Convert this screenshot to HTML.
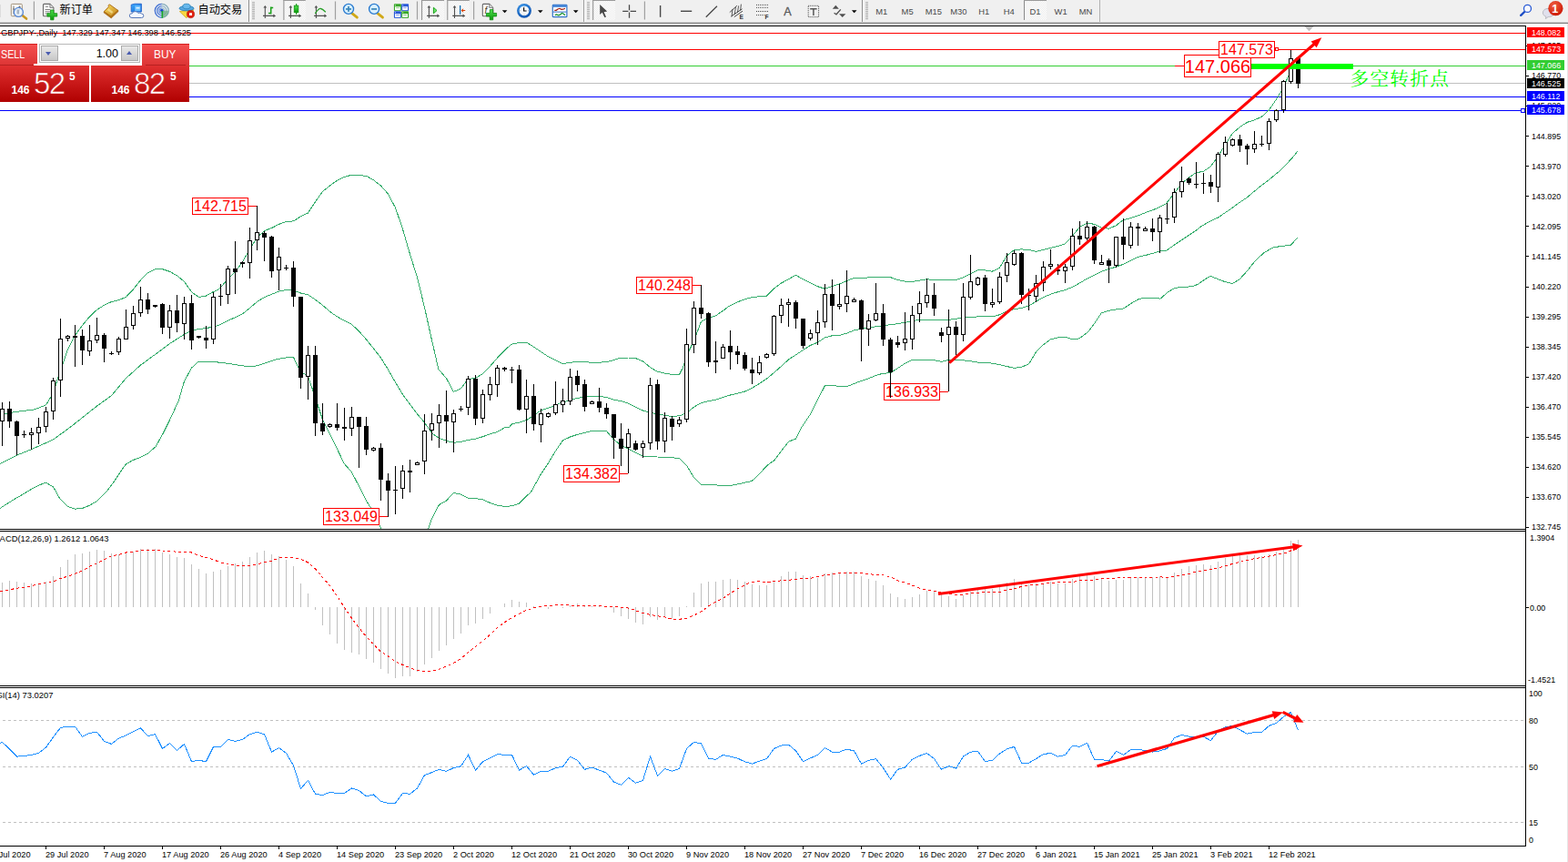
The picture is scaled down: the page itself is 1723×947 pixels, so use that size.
<!DOCTYPE html>
<html><head><meta charset="utf-8"><title>GBPJPY Daily</title>
<style>
html,body{margin:0;padding:0;background:#fff;}
body{width:1723px;height:947px;overflow:hidden;position:relative;font-family:"Liberation Sans",sans-serif;}
svg text{font-family:"Liberation Sans",sans-serif;}
#tb{position:absolute;left:0;top:0;width:1723px;height:24px;background:#f0f0f0;}
#tbl1{position:absolute;left:0;top:24px;width:1723px;height:1px;background:#cfcfcf;}
#tbl2{position:absolute;left:0;top:25px;width:1723px;height:1px;background:#7c7c7c;}
#main{position:absolute;left:0;top:0;}
#trade{position:absolute;left:0;top:48px;width:208px;height:64px;}
#trade div{position:absolute;}
.sb{background:linear-gradient(#f55050,#dc3434);color:#fff;font-size:12px;border-top:1px solid #d42020;box-sizing:border-box;}
.pp{background:linear-gradient(#e03030,#b00000);color:#fff;}
</style></head><body>
<div id="tb"></div><div style="position:absolute;left:1722px;top:26px;width:1px;height:921px;background:#e6e6e6"></div><div id="tbl1"></div><div id="tbl2"></div>
<svg id="main" width="1723" height="947" viewBox="0 0 1723 947">
<g shape-rendering="crispEdges">
<rect x="0" y="36" width="1676" height="1" fill="#ff0000"/>
<rect x="0" y="54" width="1676" height="1" fill="#ff0000"/>
<rect x="0" y="72" width="1676" height="1" fill="#32cd32"/>
<rect x="1291" y="72" width="10" height="1" fill="#ff0000"/>
<rect x="0" y="91" width="1676" height="1" fill="#c0c0c0"/>
<rect x="0" y="106" width="1676" height="1" fill="#0000ff"/>
<rect x="0" y="121" width="1676" height="1" fill="#0000ff"/>
<rect x="1671.5" y="119.5" width="4" height="4" fill="#fff" stroke="#0000ff" stroke-width="1"/>
</g>
<clipPath id="mainclip"><rect x="0" y="29" width="1676" height="552"/></clipPath>
<g clip-path="url(#mainclip)" fill="none" stroke="#35ad6c" stroke-width="1" shape-rendering="crispEdges">
<path d="M0.0 456.2 L12.7 453.2 L25.4 451.4 L38.0 449.9 L50.7 444.8 L58.3 432.1 L66.4 406.8 L74.5 384.0 L82.4 368.7 L90.5 357.3 L98.4 348.0 L106.5 340.3 L114.4 335.3 L122.5 331.5 L130.3 329.7 L138.4 326.4 L146.3 318.0 L154.4 307.9 L162.3 299.8 L170.4 295.7 L178.5 295.7 L186.4 298.3 L194.5 302.8 L202.3 309.2 L210.4 320.6 L218.3 326.4 L226.4 325.1 L234.3 320.6 L240.0 318.2 L250.4 306.8 L258.5 298.7 L266.4 287.8 L274.5 273.8 L282.3 261.1 L290.5 253.5 L298.6 250.5 L306.4 246.4 L314.5 243.4 L322.4 242.9 L330.5 237.8 L338.4 234.0 L346.5 221.8 L354.4 210.4 L362.5 204.1 L370.3 198.3 L378.4 194.5 L386.3 192.2 L394.4 192.7 L402.3 193.2 L410.4 197.7 L418.5 204.1 L426.4 213.0 L434.5 228.2 L442.3 251.0 L450.4 278.9 L458.3 304.2 L466.4 337.2 L474.3 372.7 L481.9 405.8 L490.4 415.4 L498.4 430.4 L506.5 426.9 L514.4 416.5 L522.6 415.3 L530.5 410.7 L538.4 402.5 L546.5 393.2 L554.4 385.1 L560.0 379.8 L562.5 378.1 L570.6 376.6 L578.5 376.1 L586.4 381.1 L594.3 386.4 L602.2 391.6 L610.2 395.6 L618.3 399.6 L626.3 398.2 L634.4 397.7 L642.4 397.7 L650.5 398.2 L658.5 398.2 L666.4 397.7 L674.3 395.6 L682.5 393.0 L690.4 393.0 L698.3 393.5 L706.5 396.9 L714.4 403.5 L722.4 408.3 L730.5 410.1 L738.5 411.4 L746.6 411.4 L750.6 403.5 L754.6 390.3 L762.5 374.5 L770.4 353.4 L778.6 349.4 L786.5 346.8 L794.4 341.5 L801.2 336.3 L810.6 331.8 L818.5 328.7 L826.4 326.6 L834.3 325.8 L842.2 325.2 L850.2 317.3 L858.3 311.2 L866.3 306.8 L874.4 302.3 L882.4 306.8 L890.5 310.7 L898.5 314.7 L906.4 317.3 L914.3 314.7 L922.5 312.0 L930.4 308.6 L938.3 305.4 L946.5 305.4 L954.4 304.9 L962.4 304.4 L970.5 304.4 L978.5 304.6 L986.6 307.6 L994.6 309.1 L1002.5 309.4 L1010.4 308.1 L1018.6 306.8 L1026.5 307.6 L1034.4 307.6 L1041.2 307.9 L1050.6 307.5 L1058.5 304.8 L1066.4 300.9 L1074.3 296.9 L1082.2 296.9 L1090.2 298.2 L1098.3 294.3 L1106.3 281.1 L1114.4 274.5 L1122.4 273.9 L1130.5 274.5 L1138.5 276.3 L1146.4 274.5 L1154.3 272.4 L1162.5 270.5 L1170.4 267.9 L1178.3 259.2 L1186.5 249.4 L1194.4 245.4 L1202.4 246.2 L1210.5 250.2 L1218.5 251.2 L1226.6 247.6 L1234.6 241.5 L1242.5 239.6 L1250.4 237.0 L1258.6 233.6 L1266.5 230.9 L1274.4 227.5 L1281.2 223.9 L1290.6 212.2 L1298.5 201.6 L1306.4 195.0 L1314.3 189.7 L1322.2 188.4 L1330.2 183.1 L1338.3 171.8 L1346.3 159.1 L1354.4 146.4 L1362.4 139.6 L1370.5 134.3 L1378.5 131.9 L1386.4 128.2 L1394.3 121.1 L1402.5 109.2 L1410.4 96.0 L1418.3 77.5 L1424.7 63.0"/>
<path d="M0.0 509.7 L18.5 500.1 L34.5 493.7 L50.5 486.6 L58.6 482.8 L74.5 471.4 L90.5 458.8 L106.5 446.1 L122.5 434.7 L138.4 415.6 L154.4 401.2 L170.4 389.5 L186.4 377.6 L202.3 367.5 L210.4 363.2 L218.3 361.6 L226.4 360.6 L234.3 359.1 L240.0 357.5 L250.4 352.4 L258.5 348.6 L266.4 344.8 L274.5 338.5 L282.3 331.6 L290.5 326.6 L298.6 323.3 L306.4 320.2 L314.5 318.4 L322.4 318.9 L330.5 322.0 L338.4 323.8 L346.5 329.1 L354.4 335.2 L362.5 342.3 L370.3 347.8 L378.4 352.4 L386.3 356.2 L394.4 363.8 L402.3 372.7 L410.4 382.8 L418.5 393.0 L426.4 405.9 L434.5 420.0 L442.4 433.2 L450.6 444.3 L458.5 454.8 L466.4 464.1 L474.5 475.7 L482.4 481.5 L490.5 484.3 L498.4 486.2 L506.5 485.5 L514.4 483.4 L522.6 482.2 L530.5 479.7 L538.4 476.9 L546.5 474.5 L554.4 469.9 L560.0 469.0 L562.5 465.7 L570.6 464.2 L578.5 461.6 L586.4 456.3 L594.3 451.0 L602.2 448.4 L610.2 445.2 L618.3 441.8 L626.3 439.9 L634.4 437.3 L642.4 436.5 L650.5 435.2 L658.5 435.2 L666.4 436.5 L674.3 439.2 L682.5 440.5 L690.4 443.1 L698.3 447.1 L706.5 451.0 L714.4 453.1 L722.4 455.0 L730.5 456.3 L738.5 457.6 L746.6 456.8 L754.6 453.7 L762.5 447.1 L770.4 442.6 L778.6 440.5 L786.5 439.2 L794.4 436.5 L801.2 434.3 L810.6 432.2 L818.5 430.0 L826.4 426.3 L834.3 421.6 L842.2 416.3 L850.2 409.7 L858.3 402.6 L866.3 395.2 L874.4 389.9 L882.4 384.6 L890.5 379.4 L898.5 376.2 L906.4 370.9 L914.3 368.8 L922.5 368.3 L930.4 366.2 L938.3 363.0 L946.5 361.4 L954.4 360.3 L962.4 358.8 L970.5 357.7 L978.5 356.7 L986.6 355.6 L994.6 354.3 L1002.5 352.4 L1010.4 351.6 L1018.6 351.1 L1026.5 351.1 L1034.4 351.4 L1041.2 351.5 L1050.6 350.2 L1058.5 349.2 L1066.4 348.4 L1074.3 347.9 L1082.2 347.9 L1090.2 347.9 L1098.3 345.8 L1106.3 341.8 L1114.4 339.7 L1122.4 338.6 L1130.5 336.0 L1138.5 331.2 L1146.4 326.7 L1154.3 323.3 L1162.5 320.7 L1170.4 318.6 L1178.3 315.4 L1186.5 310.9 L1194.4 306.2 L1202.4 302.2 L1210.5 298.2 L1218.5 295.6 L1226.6 293.0 L1234.6 290.3 L1242.5 286.4 L1250.4 282.4 L1258.6 280.5 L1266.5 278.4 L1274.4 275.8 L1281.2 275.7 L1290.6 268.9 L1298.5 263.6 L1306.4 258.4 L1314.3 253.1 L1319.5 249.1 L1329.0 243.4 L1338.5 239.0 L1346.8 233.3 L1354.4 228.2 L1362.0 222.5 L1369.6 217.5 L1377.2 211.1 L1384.8 204.8 L1392.4 199.1 L1398.7 194.0 L1406.3 187.7 L1413.9 180.1 L1420.3 173.1 L1425.6 166.5"/>
<path d="M0.0 558.5 L7.9 553.3 L15.8 548.5 L23.8 543.8 L31.7 539.0 L39.6 534.7 L49.9 530.0 L58.6 535.0 L65.7 547.7 L74.4 556.4 L82.4 559.1 L90.3 558.5 L98.2 555.3 L106.1 550.9 L117.2 539.8 L126.7 527.1 L137.8 510.5 L145.7 505.7 L153.7 502.6 L162.4 498.3 L171.1 490.7 L179.0 476.4 L186.9 460.6 L196.4 440.0 L202.3 419.5 L210.4 404.2 L218.3 397.1 L226.4 397.1 L234.3 397.1 L240.0 398.1 L250.4 399.3 L258.5 400.6 L266.4 401.9 L274.5 402.6 L282.3 401.9 L290.5 399.3 L298.6 396.3 L306.4 394.2 L314.5 393.0 L322.4 392.2 L326.2 400.6 L330.2 408.3 L338.4 413.0 L346.3 436.2 L354.4 460.6 L362.3 476.9 L370.4 493.1 L378.3 509.4 L386.4 518.7 L394.3 533.8 L402.5 550.0 L410.4 562.8 L418.5 580.2 L424.5 593.0 L436.2 604.6 L450.1 607.0 L461.7 600.0 L471.0 580.2 L474.5 569.8 L482.4 554.7 L490.5 550.0 L498.4 541.4 L506.5 543.1 L514.4 547.3 L522.6 547.7 L530.5 548.9 L538.4 552.4 L546.5 555.2 L554.4 556.3 L562.5 555.9 L570.0 553.5 L583.8 540.0 L594.3 521.0 L602.2 509.1 L610.2 495.9 L618.3 484.0 L626.3 480.1 L634.4 477.4 L642.4 475.3 L650.5 473.5 L658.5 473.5 L666.4 473.5 L674.3 482.7 L682.5 489.3 L690.4 493.3 L698.3 497.2 L706.5 501.2 L714.4 501.2 L722.4 502.0 L730.5 502.5 L739.2 502.9 L746.3 503.4 L755.0 512.1 L762.2 524.0 L770.4 532.3 L790.7 533.1 L804.9 533.1 L814.4 531.1 L826.3 528.4 L835.0 520.0 L843.0 511.3 L850.9 505.7 L860.4 493.1 L866.7 485.1 L874.6 482.0 L881.0 469.3 L890.5 455.0 L906.4 423.7 L914.3 423.7 L922.5 424.2 L930.4 424.8 L938.3 421.6 L946.5 418.4 L954.4 415.8 L962.4 412.4 L970.5 410.2 L978.5 409.7 L986.6 404.4 L994.6 399.2 L1002.5 395.2 L1010.4 395.2 L1018.6 396.0 L1026.5 395.7 L1034.4 397.3 L1041.2 395.6 L1050.6 395.4 L1058.5 395.9 L1066.4 396.7 L1074.3 398.0 L1082.2 398.6 L1090.2 399.1 L1098.3 400.7 L1106.3 402.5 L1114.4 404.4 L1122.4 403.3 L1130.5 399.9 L1138.5 386.7 L1146.4 378.8 L1154.3 372.9 L1162.5 370.8 L1170.4 370.0 L1179.2 373.0 L1186.3 371.8 L1195.8 364.6 L1203.8 353.6 L1210.1 344.1 L1218.0 341.4 L1227.5 339.8 L1234.6 339.0 L1243.4 333.0 L1252.1 328.2 L1262.4 327.1 L1271.1 327.4 L1275.0 328.2 L1283.0 321.1 L1290.9 316.3 L1300.4 315.5 L1309.9 314.7 L1316.2 312.4 L1324.1 306.8 L1330.5 303.3 L1338.4 306.8 L1346.3 309.7 L1354.2 311.6 L1362.2 306.8 L1370.1 298.1 L1379.6 286.2 L1389.1 277.5 L1398.6 272.0 L1408.1 270.4 L1418.4 269.3 L1425.5 261.4"/>
</g>
<g shape-rendering="crispEdges">
<rect x="2" y="442" width="1" height="48" fill="#000"/>
<rect x="0" y="449" width="5" height="14" fill="#000"/>
<rect x="1" y="450" width="3" height="12" fill="#fff"/>
<rect x="10" y="441" width="1" height="29" fill="#000"/>
<rect x="8" y="449" width="5" height="14" fill="#000"/>
<rect x="18" y="462" width="1" height="38" fill="#000"/>
<rect x="16" y="463" width="5" height="16" fill="#000"/>
<rect x="26" y="473" width="1" height="8" fill="#000"/>
<rect x="24" y="477" width="5" height="1" fill="#000"/>
<rect x="34" y="470" width="1" height="24" fill="#000"/>
<rect x="32" y="475" width="5" height="3" fill="#000"/>
<rect x="33" y="476" width="3" height="1" fill="#fff"/>
<rect x="42" y="459" width="1" height="29" fill="#000"/>
<rect x="40" y="469" width="5" height="7" fill="#000"/>
<rect x="41" y="470" width="3" height="5" fill="#fff"/>
<rect x="50" y="447" width="1" height="28" fill="#000"/>
<rect x="48" y="452" width="5" height="17" fill="#000"/>
<rect x="49" y="453" width="3" height="15" fill="#fff"/>
<rect x="58" y="415" width="1" height="46" fill="#000"/>
<rect x="56" y="418" width="5" height="34" fill="#000"/>
<rect x="57" y="419" width="3" height="32" fill="#fff"/>
<rect x="66" y="350" width="1" height="86" fill="#000"/>
<rect x="64" y="372" width="5" height="46" fill="#000"/>
<rect x="65" y="373" width="3" height="44" fill="#fff"/>
<rect x="74" y="368" width="1" height="7" fill="#000"/>
<rect x="72" y="369" width="5" height="3" fill="#000"/>
<rect x="73" y="370" width="3" height="1" fill="#fff"/>
<rect x="82" y="357" width="1" height="46" fill="#000"/>
<rect x="80" y="369" width="5" height="2" fill="#000"/>
<rect x="90" y="362" width="1" height="39" fill="#000"/>
<rect x="88" y="369" width="5" height="16" fill="#000"/>
<rect x="98" y="357" width="1" height="34" fill="#000"/>
<rect x="96" y="374" width="5" height="12" fill="#000"/>
<rect x="97" y="375" width="3" height="10" fill="#fff"/>
<rect x="106" y="349" width="1" height="28" fill="#000"/>
<rect x="104" y="368" width="5" height="6" fill="#000"/>
<rect x="105" y="369" width="3" height="4" fill="#fff"/>
<rect x="114" y="366" width="1" height="32" fill="#000"/>
<rect x="112" y="368" width="5" height="15" fill="#000"/>
<rect x="122" y="386" width="1" height="4" fill="#000"/>
<rect x="120" y="388" width="5" height="1" fill="#000"/>
<rect x="130" y="370" width="1" height="20" fill="#000"/>
<rect x="128" y="372" width="5" height="15" fill="#000"/>
<rect x="129" y="373" width="3" height="13" fill="#fff"/>
<rect x="138" y="340" width="1" height="32" fill="#000"/>
<rect x="136" y="359" width="5" height="14" fill="#000"/>
<rect x="137" y="360" width="3" height="12" fill="#fff"/>
<rect x="146" y="336" width="1" height="26" fill="#000"/>
<rect x="144" y="344" width="5" height="14" fill="#000"/>
<rect x="145" y="345" width="3" height="12" fill="#fff"/>
<rect x="154" y="315" width="1" height="33" fill="#000"/>
<rect x="152" y="329" width="5" height="15" fill="#000"/>
<rect x="153" y="330" width="3" height="13" fill="#fff"/>
<rect x="162" y="322" width="1" height="23" fill="#000"/>
<rect x="160" y="329" width="5" height="11" fill="#000"/>
<rect x="170" y="335" width="1" height="3" fill="#000"/>
<rect x="168" y="335" width="5" height="2" fill="#000"/>
<rect x="178" y="333" width="1" height="34" fill="#000"/>
<rect x="176" y="334" width="5" height="26" fill="#000"/>
<rect x="186" y="335" width="1" height="37" fill="#000"/>
<rect x="184" y="341" width="5" height="19" fill="#000"/>
<rect x="185" y="342" width="3" height="17" fill="#fff"/>
<rect x="194" y="324" width="1" height="41" fill="#000"/>
<rect x="192" y="341" width="5" height="14" fill="#000"/>
<rect x="202" y="326" width="1" height="47" fill="#000"/>
<rect x="200" y="333" width="5" height="23" fill="#000"/>
<rect x="201" y="334" width="3" height="21" fill="#fff"/>
<rect x="210" y="324" width="1" height="60" fill="#000"/>
<rect x="208" y="333" width="5" height="41" fill="#000"/>
<rect x="218" y="369" width="1" height="3" fill="#000"/>
<rect x="216" y="369" width="5" height="2" fill="#000"/>
<rect x="226" y="358" width="1" height="25" fill="#000"/>
<rect x="224" y="371" width="5" height="3" fill="#000"/>
<rect x="234" y="321" width="1" height="57" fill="#000"/>
<rect x="232" y="326" width="5" height="47" fill="#000"/>
<rect x="233" y="327" width="3" height="45" fill="#fff"/>
<rect x="242" y="312" width="1" height="24" fill="#000"/>
<rect x="240" y="325" width="5" height="1" fill="#000"/>
<rect x="250" y="292" width="1" height="42" fill="#000"/>
<rect x="248" y="295" width="5" height="29" fill="#000"/>
<rect x="249" y="296" width="3" height="27" fill="#fff"/>
<rect x="258" y="265" width="1" height="58" fill="#000"/>
<rect x="256" y="295" width="5" height="4" fill="#000"/>
<rect x="266" y="287" width="1" height="7" fill="#000"/>
<rect x="264" y="288" width="5" height="2" fill="#000"/>
<rect x="274" y="250" width="1" height="56" fill="#000"/>
<rect x="272" y="264" width="5" height="25" fill="#000"/>
<rect x="273" y="265" width="3" height="23" fill="#fff"/>
<rect x="282" y="226" width="1" height="49" fill="#000"/>
<rect x="280" y="255" width="5" height="9" fill="#000"/>
<rect x="281" y="256" width="3" height="7" fill="#fff"/>
<rect x="290" y="254" width="1" height="33" fill="#000"/>
<rect x="288" y="256" width="5" height="5" fill="#000"/>
<rect x="298" y="259" width="1" height="46" fill="#000"/>
<rect x="296" y="260" width="5" height="38" fill="#000"/>
<rect x="306" y="272" width="1" height="47" fill="#000"/>
<rect x="304" y="282" width="5" height="15" fill="#000"/>
<rect x="305" y="283" width="3" height="13" fill="#fff"/>
<rect x="314" y="291" width="1" height="6" fill="#000"/>
<rect x="312" y="294" width="5" height="1" fill="#000"/>
<rect x="322" y="287" width="1" height="50" fill="#000"/>
<rect x="320" y="294" width="5" height="32" fill="#000"/>
<rect x="330" y="326" width="1" height="101" fill="#000"/>
<rect x="328" y="326" width="5" height="89" fill="#000"/>
<rect x="338" y="380" width="1" height="59" fill="#000"/>
<rect x="336" y="390" width="5" height="24" fill="#000"/>
<rect x="337" y="391" width="3" height="22" fill="#fff"/>
<rect x="346" y="380" width="1" height="99" fill="#000"/>
<rect x="344" y="390" width="5" height="75" fill="#000"/>
<rect x="354" y="443" width="1" height="35" fill="#000"/>
<rect x="352" y="465" width="5" height="9" fill="#000"/>
<rect x="362" y="465" width="1" height="5" fill="#000"/>
<rect x="360" y="466" width="5" height="3" fill="#000"/>
<rect x="361" y="467" width="3" height="1" fill="#fff"/>
<rect x="370" y="443" width="1" height="30" fill="#000"/>
<rect x="368" y="466" width="5" height="4" fill="#000"/>
<rect x="378" y="448" width="1" height="36" fill="#000"/>
<rect x="376" y="469" width="5" height="2" fill="#000"/>
<rect x="386" y="447" width="1" height="32" fill="#000"/>
<rect x="384" y="458" width="5" height="13" fill="#000"/>
<rect x="385" y="459" width="3" height="11" fill="#fff"/>
<rect x="394" y="458" width="1" height="56" fill="#000"/>
<rect x="392" y="458" width="5" height="11" fill="#000"/>
<rect x="402" y="458" width="1" height="42" fill="#000"/>
<rect x="400" y="468" width="5" height="26" fill="#000"/>
<rect x="410" y="491" width="1" height="5" fill="#000"/>
<rect x="408" y="492" width="5" height="3" fill="#000"/>
<rect x="409" y="493" width="3" height="1" fill="#fff"/>
<rect x="418" y="487" width="1" height="63" fill="#000"/>
<rect x="416" y="492" width="5" height="35" fill="#000"/>
<rect x="426" y="520" width="1" height="48" fill="#000"/>
<rect x="424" y="528" width="5" height="11" fill="#000"/>
<rect x="434" y="512" width="1" height="53" fill="#000"/>
<rect x="432" y="538" width="5" height="1" fill="#000"/>
<rect x="442" y="511" width="1" height="37" fill="#000"/>
<rect x="440" y="517" width="5" height="20" fill="#000"/>
<rect x="441" y="518" width="3" height="18" fill="#fff"/>
<rect x="450" y="505" width="1" height="36" fill="#000"/>
<rect x="448" y="517" width="5" height="2" fill="#000"/>
<rect x="458" y="507" width="1" height="4" fill="#000"/>
<rect x="456" y="508" width="5" height="3" fill="#000"/>
<rect x="457" y="509" width="3" height="1" fill="#fff"/>
<rect x="466" y="455" width="1" height="66" fill="#000"/>
<rect x="464" y="473" width="5" height="34" fill="#000"/>
<rect x="465" y="474" width="3" height="32" fill="#fff"/>
<rect x="474" y="454" width="1" height="30" fill="#000"/>
<rect x="472" y="465" width="5" height="8" fill="#000"/>
<rect x="473" y="466" width="3" height="6" fill="#fff"/>
<rect x="482" y="444" width="1" height="48" fill="#000"/>
<rect x="480" y="456" width="5" height="9" fill="#000"/>
<rect x="481" y="457" width="3" height="7" fill="#fff"/>
<rect x="490" y="429" width="1" height="58" fill="#000"/>
<rect x="488" y="456" width="5" height="7" fill="#000"/>
<rect x="498" y="450" width="1" height="47" fill="#000"/>
<rect x="496" y="454" width="5" height="10" fill="#000"/>
<rect x="497" y="455" width="3" height="8" fill="#fff"/>
<rect x="506" y="446" width="1" height="6" fill="#000"/>
<rect x="504" y="449" width="5" height="1" fill="#000"/>
<rect x="514" y="413" width="1" height="43" fill="#000"/>
<rect x="512" y="416" width="5" height="32" fill="#000"/>
<rect x="513" y="417" width="3" height="30" fill="#fff"/>
<rect x="522" y="412" width="1" height="55" fill="#000"/>
<rect x="520" y="416" width="5" height="44" fill="#000"/>
<rect x="530" y="428" width="1" height="37" fill="#000"/>
<rect x="528" y="433" width="5" height="27" fill="#000"/>
<rect x="529" y="434" width="3" height="25" fill="#fff"/>
<rect x="538" y="414" width="1" height="26" fill="#000"/>
<rect x="536" y="422" width="5" height="12" fill="#000"/>
<rect x="537" y="423" width="3" height="10" fill="#fff"/>
<rect x="546" y="401" width="1" height="35" fill="#000"/>
<rect x="544" y="404" width="5" height="19" fill="#000"/>
<rect x="545" y="405" width="3" height="17" fill="#fff"/>
<rect x="554" y="403" width="1" height="5" fill="#000"/>
<rect x="552" y="404" width="5" height="2" fill="#000"/>
<rect x="562" y="403" width="1" height="18" fill="#000"/>
<rect x="560" y="406" width="5" height="1" fill="#000"/>
<rect x="570" y="401" width="1" height="50" fill="#000"/>
<rect x="568" y="406" width="5" height="44" fill="#000"/>
<rect x="578" y="417" width="1" height="59" fill="#000"/>
<rect x="576" y="435" width="5" height="15" fill="#000"/>
<rect x="577" y="436" width="3" height="13" fill="#fff"/>
<rect x="586" y="422" width="1" height="51" fill="#000"/>
<rect x="584" y="435" width="5" height="31" fill="#000"/>
<rect x="594" y="449" width="1" height="37" fill="#000"/>
<rect x="592" y="454" width="5" height="13" fill="#000"/>
<rect x="593" y="455" width="3" height="11" fill="#fff"/>
<rect x="602" y="453" width="1" height="6" fill="#000"/>
<rect x="600" y="454" width="5" height="4" fill="#000"/>
<rect x="601" y="455" width="3" height="2" fill="#fff"/>
<rect x="610" y="419" width="1" height="37" fill="#000"/>
<rect x="608" y="444" width="5" height="10" fill="#000"/>
<rect x="609" y="445" width="3" height="8" fill="#fff"/>
<rect x="618" y="427" width="1" height="26" fill="#000"/>
<rect x="616" y="440" width="5" height="5" fill="#000"/>
<rect x="617" y="441" width="3" height="3" fill="#fff"/>
<rect x="626" y="405" width="1" height="40" fill="#000"/>
<rect x="624" y="414" width="5" height="27" fill="#000"/>
<rect x="625" y="415" width="3" height="25" fill="#fff"/>
<rect x="634" y="407" width="1" height="23" fill="#000"/>
<rect x="632" y="413" width="5" height="10" fill="#000"/>
<rect x="642" y="417" width="1" height="35" fill="#000"/>
<rect x="640" y="422" width="5" height="25" fill="#000"/>
<rect x="650" y="440" width="1" height="4" fill="#000"/>
<rect x="648" y="441" width="5" height="3" fill="#000"/>
<rect x="649" y="442" width="3" height="1" fill="#fff"/>
<rect x="658" y="426" width="1" height="27" fill="#000"/>
<rect x="656" y="441" width="5" height="7" fill="#000"/>
<rect x="666" y="443" width="1" height="17" fill="#000"/>
<rect x="664" y="448" width="5" height="7" fill="#000"/>
<rect x="674" y="455" width="1" height="49" fill="#000"/>
<rect x="672" y="455" width="5" height="26" fill="#000"/>
<rect x="682" y="465" width="1" height="47" fill="#000"/>
<rect x="680" y="482" width="5" height="11" fill="#000"/>
<rect x="690" y="471" width="1" height="49" fill="#000"/>
<rect x="688" y="476" width="5" height="16" fill="#000"/>
<rect x="689" y="477" width="3" height="14" fill="#fff"/>
<rect x="698" y="484" width="1" height="11" fill="#000"/>
<rect x="696" y="487" width="5" height="7" fill="#000"/>
<rect x="706" y="484" width="1" height="19" fill="#000"/>
<rect x="704" y="487" width="5" height="5" fill="#000"/>
<rect x="705" y="488" width="3" height="3" fill="#fff"/>
<rect x="714" y="415" width="1" height="79" fill="#000"/>
<rect x="712" y="423" width="5" height="64" fill="#000"/>
<rect x="713" y="424" width="3" height="62" fill="#fff"/>
<rect x="722" y="417" width="1" height="77" fill="#000"/>
<rect x="720" y="422" width="5" height="63" fill="#000"/>
<rect x="730" y="453" width="1" height="44" fill="#000"/>
<rect x="728" y="459" width="5" height="26" fill="#000"/>
<rect x="729" y="460" width="3" height="24" fill="#fff"/>
<rect x="738" y="457" width="1" height="27" fill="#000"/>
<rect x="736" y="460" width="5" height="9" fill="#000"/>
<rect x="746" y="458" width="1" height="11" fill="#000"/>
<rect x="744" y="461" width="5" height="5" fill="#000"/>
<rect x="745" y="462" width="3" height="3" fill="#fff"/>
<rect x="754" y="361" width="1" height="103" fill="#000"/>
<rect x="752" y="378" width="5" height="83" fill="#000"/>
<rect x="753" y="379" width="3" height="81" fill="#fff"/>
<rect x="762" y="331" width="1" height="57" fill="#000"/>
<rect x="760" y="338" width="5" height="41" fill="#000"/>
<rect x="761" y="339" width="3" height="39" fill="#fff"/>
<rect x="770" y="313" width="1" height="37" fill="#000"/>
<rect x="768" y="338" width="5" height="7" fill="#000"/>
<rect x="778" y="343" width="1" height="60" fill="#000"/>
<rect x="776" y="344" width="5" height="54" fill="#000"/>
<rect x="786" y="375" width="1" height="35" fill="#000"/>
<rect x="784" y="396" width="5" height="2" fill="#000"/>
<rect x="794" y="378" width="1" height="16" fill="#000"/>
<rect x="792" y="381" width="5" height="13" fill="#000"/>
<rect x="793" y="382" width="3" height="11" fill="#fff"/>
<rect x="802" y="363" width="1" height="43" fill="#000"/>
<rect x="800" y="380" width="5" height="7" fill="#000"/>
<rect x="810" y="380" width="1" height="20" fill="#000"/>
<rect x="808" y="386" width="5" height="4" fill="#000"/>
<rect x="818" y="387" width="1" height="20" fill="#000"/>
<rect x="816" y="390" width="5" height="15" fill="#000"/>
<rect x="826" y="393" width="1" height="29" fill="#000"/>
<rect x="824" y="406" width="5" height="4" fill="#000"/>
<rect x="834" y="391" width="1" height="21" fill="#000"/>
<rect x="832" y="398" width="5" height="12" fill="#000"/>
<rect x="833" y="399" width="3" height="10" fill="#fff"/>
<rect x="842" y="388" width="1" height="6" fill="#000"/>
<rect x="840" y="389" width="5" height="4" fill="#000"/>
<rect x="841" y="390" width="3" height="2" fill="#fff"/>
<rect x="850" y="346" width="1" height="45" fill="#000"/>
<rect x="848" y="347" width="5" height="42" fill="#000"/>
<rect x="849" y="348" width="3" height="40" fill="#fff"/>
<rect x="858" y="328" width="1" height="27" fill="#000"/>
<rect x="856" y="335" width="5" height="12" fill="#000"/>
<rect x="857" y="336" width="3" height="10" fill="#fff"/>
<rect x="866" y="328" width="1" height="31" fill="#000"/>
<rect x="864" y="332" width="5" height="3" fill="#000"/>
<rect x="865" y="333" width="3" height="1" fill="#fff"/>
<rect x="874" y="330" width="1" height="31" fill="#000"/>
<rect x="872" y="332" width="5" height="18" fill="#000"/>
<rect x="882" y="350" width="1" height="33" fill="#000"/>
<rect x="880" y="350" width="5" height="30" fill="#000"/>
<rect x="890" y="362" width="1" height="12" fill="#000"/>
<rect x="888" y="366" width="5" height="6" fill="#000"/>
<rect x="889" y="367" width="3" height="4" fill="#fff"/>
<rect x="898" y="341" width="1" height="38" fill="#000"/>
<rect x="896" y="354" width="5" height="12" fill="#000"/>
<rect x="897" y="355" width="3" height="10" fill="#fff"/>
<rect x="906" y="312" width="1" height="48" fill="#000"/>
<rect x="904" y="323" width="5" height="31" fill="#000"/>
<rect x="905" y="324" width="3" height="29" fill="#fff"/>
<rect x="914" y="307" width="1" height="56" fill="#000"/>
<rect x="912" y="323" width="5" height="13" fill="#000"/>
<rect x="922" y="312" width="1" height="28" fill="#000"/>
<rect x="920" y="334" width="5" height="3" fill="#000"/>
<rect x="921" y="335" width="3" height="1" fill="#fff"/>
<rect x="930" y="297" width="1" height="46" fill="#000"/>
<rect x="928" y="325" width="5" height="9" fill="#000"/>
<rect x="929" y="326" width="3" height="7" fill="#fff"/>
<rect x="938" y="327" width="1" height="5" fill="#000"/>
<rect x="936" y="329" width="5" height="3" fill="#000"/>
<rect x="937" y="330" width="3" height="1" fill="#fff"/>
<rect x="946" y="329" width="1" height="68" fill="#000"/>
<rect x="944" y="330" width="5" height="32" fill="#000"/>
<rect x="954" y="345" width="1" height="35" fill="#000"/>
<rect x="952" y="352" width="5" height="10" fill="#000"/>
<rect x="953" y="353" width="3" height="8" fill="#fff"/>
<rect x="962" y="311" width="1" height="42" fill="#000"/>
<rect x="960" y="344" width="5" height="8" fill="#000"/>
<rect x="961" y="345" width="3" height="6" fill="#fff"/>
<rect x="970" y="334" width="1" height="46" fill="#000"/>
<rect x="968" y="344" width="5" height="29" fill="#000"/>
<rect x="978" y="371" width="1" height="65" fill="#000"/>
<rect x="976" y="373" width="5" height="36" fill="#000"/>
<rect x="986" y="369" width="1" height="13" fill="#000"/>
<rect x="984" y="376" width="5" height="3" fill="#000"/>
<rect x="994" y="343" width="1" height="42" fill="#000"/>
<rect x="992" y="372" width="5" height="5" fill="#000"/>
<rect x="993" y="373" width="3" height="3" fill="#fff"/>
<rect x="1002" y="336" width="1" height="48" fill="#000"/>
<rect x="1000" y="346" width="5" height="27" fill="#000"/>
<rect x="1001" y="347" width="3" height="25" fill="#fff"/>
<rect x="1010" y="320" width="1" height="34" fill="#000"/>
<rect x="1008" y="333" width="5" height="12" fill="#000"/>
<rect x="1009" y="334" width="3" height="10" fill="#fff"/>
<rect x="1018" y="306" width="1" height="32" fill="#000"/>
<rect x="1016" y="324" width="5" height="9" fill="#000"/>
<rect x="1017" y="325" width="3" height="7" fill="#fff"/>
<rect x="1026" y="311" width="1" height="36" fill="#000"/>
<rect x="1024" y="324" width="5" height="15" fill="#000"/>
<rect x="1034" y="360" width="1" height="16" fill="#000"/>
<rect x="1032" y="365" width="5" height="4" fill="#000"/>
<rect x="1042" y="340" width="1" height="90" fill="#000"/>
<rect x="1040" y="359" width="5" height="9" fill="#000"/>
<rect x="1041" y="360" width="3" height="7" fill="#fff"/>
<rect x="1050" y="353" width="1" height="37" fill="#000"/>
<rect x="1048" y="359" width="5" height="9" fill="#000"/>
<rect x="1058" y="311" width="1" height="64" fill="#000"/>
<rect x="1056" y="326" width="5" height="42" fill="#000"/>
<rect x="1057" y="327" width="3" height="40" fill="#fff"/>
<rect x="1066" y="280" width="1" height="49" fill="#000"/>
<rect x="1064" y="309" width="5" height="18" fill="#000"/>
<rect x="1065" y="310" width="3" height="16" fill="#fff"/>
<rect x="1074" y="304" width="1" height="10" fill="#000"/>
<rect x="1072" y="305" width="5" height="8" fill="#000"/>
<rect x="1073" y="306" width="3" height="6" fill="#fff"/>
<rect x="1082" y="302" width="1" height="40" fill="#000"/>
<rect x="1080" y="305" width="5" height="29" fill="#000"/>
<rect x="1090" y="317" width="1" height="21" fill="#000"/>
<rect x="1088" y="332" width="5" height="3" fill="#000"/>
<rect x="1089" y="333" width="3" height="1" fill="#fff"/>
<rect x="1098" y="299" width="1" height="35" fill="#000"/>
<rect x="1096" y="304" width="5" height="28" fill="#000"/>
<rect x="1097" y="305" width="3" height="26" fill="#fff"/>
<rect x="1106" y="278" width="1" height="32" fill="#000"/>
<rect x="1104" y="288" width="5" height="15" fill="#000"/>
<rect x="1105" y="289" width="3" height="13" fill="#fff"/>
<rect x="1114" y="275" width="1" height="17" fill="#000"/>
<rect x="1112" y="278" width="5" height="13" fill="#000"/>
<rect x="1113" y="279" width="3" height="11" fill="#fff"/>
<rect x="1122" y="277" width="1" height="57" fill="#000"/>
<rect x="1120" y="278" width="5" height="46" fill="#000"/>
<rect x="1130" y="317" width="1" height="24" fill="#000"/>
<rect x="1128" y="324" width="5" height="1" fill="#000"/>
<rect x="1138" y="302" width="1" height="30" fill="#000"/>
<rect x="1136" y="311" width="5" height="15" fill="#000"/>
<rect x="1137" y="312" width="3" height="13" fill="#fff"/>
<rect x="1146" y="287" width="1" height="33" fill="#000"/>
<rect x="1144" y="293" width="5" height="18" fill="#000"/>
<rect x="1145" y="294" width="3" height="16" fill="#fff"/>
<rect x="1154" y="274" width="1" height="22" fill="#000"/>
<rect x="1152" y="290" width="5" height="3" fill="#000"/>
<rect x="1153" y="291" width="3" height="1" fill="#fff"/>
<rect x="1162" y="290" width="1" height="12" fill="#000"/>
<rect x="1160" y="296" width="5" height="2" fill="#000"/>
<rect x="1170" y="290" width="1" height="21" fill="#000"/>
<rect x="1168" y="293" width="5" height="5" fill="#000"/>
<rect x="1169" y="294" width="3" height="3" fill="#fff"/>
<rect x="1178" y="251" width="1" height="46" fill="#000"/>
<rect x="1176" y="259" width="5" height="34" fill="#000"/>
<rect x="1177" y="260" width="3" height="32" fill="#fff"/>
<rect x="1186" y="243" width="1" height="26" fill="#000"/>
<rect x="1184" y="259" width="5" height="4" fill="#000"/>
<rect x="1194" y="243" width="1" height="21" fill="#000"/>
<rect x="1192" y="249" width="5" height="13" fill="#000"/>
<rect x="1193" y="250" width="3" height="11" fill="#fff"/>
<rect x="1202" y="248" width="1" height="42" fill="#000"/>
<rect x="1200" y="249" width="5" height="37" fill="#000"/>
<rect x="1210" y="280" width="1" height="11" fill="#000"/>
<rect x="1208" y="288" width="5" height="3" fill="#000"/>
<rect x="1209" y="289" width="3" height="1" fill="#fff"/>
<rect x="1218" y="284" width="1" height="27" fill="#000"/>
<rect x="1216" y="286" width="5" height="6" fill="#000"/>
<rect x="1226" y="260" width="1" height="34" fill="#000"/>
<rect x="1224" y="260" width="5" height="32" fill="#000"/>
<rect x="1225" y="261" width="3" height="30" fill="#fff"/>
<rect x="1234" y="240" width="1" height="45" fill="#000"/>
<rect x="1232" y="260" width="5" height="9" fill="#000"/>
<rect x="1242" y="244" width="1" height="29" fill="#000"/>
<rect x="1240" y="249" width="5" height="21" fill="#000"/>
<rect x="1241" y="250" width="3" height="19" fill="#fff"/>
<rect x="1250" y="245" width="1" height="25" fill="#000"/>
<rect x="1248" y="249" width="5" height="2" fill="#000"/>
<rect x="1258" y="249" width="1" height="5" fill="#000"/>
<rect x="1256" y="251" width="5" height="3" fill="#000"/>
<rect x="1257" y="252" width="3" height="1" fill="#fff"/>
<rect x="1266" y="240" width="1" height="25" fill="#000"/>
<rect x="1264" y="251" width="5" height="4" fill="#000"/>
<rect x="1274" y="236" width="1" height="42" fill="#000"/>
<rect x="1272" y="239" width="5" height="16" fill="#000"/>
<rect x="1273" y="240" width="3" height="14" fill="#fff"/>
<rect x="1282" y="223" width="1" height="23" fill="#000"/>
<rect x="1280" y="240" width="5" height="1" fill="#000"/>
<rect x="1290" y="207" width="1" height="38" fill="#000"/>
<rect x="1288" y="211" width="5" height="28" fill="#000"/>
<rect x="1289" y="212" width="3" height="26" fill="#fff"/>
<rect x="1298" y="183" width="1" height="34" fill="#000"/>
<rect x="1296" y="199" width="5" height="12" fill="#000"/>
<rect x="1297" y="200" width="3" height="10" fill="#fff"/>
<rect x="1306" y="195" width="1" height="8" fill="#000"/>
<rect x="1304" y="196" width="5" height="5" fill="#000"/>
<rect x="1314" y="178" width="1" height="29" fill="#000"/>
<rect x="1312" y="202" width="5" height="1" fill="#000"/>
<rect x="1322" y="190" width="1" height="23" fill="#000"/>
<rect x="1320" y="201" width="5" height="1" fill="#000"/>
<rect x="1330" y="192" width="1" height="20" fill="#000"/>
<rect x="1328" y="200" width="5" height="5" fill="#000"/>
<rect x="1338" y="167" width="1" height="55" fill="#000"/>
<rect x="1336" y="169" width="5" height="37" fill="#000"/>
<rect x="1337" y="170" width="3" height="35" fill="#fff"/>
<rect x="1346" y="150" width="1" height="22" fill="#000"/>
<rect x="1344" y="156" width="5" height="14" fill="#000"/>
<rect x="1345" y="157" width="3" height="12" fill="#fff"/>
<rect x="1354" y="152" width="1" height="9" fill="#000"/>
<rect x="1352" y="153" width="5" height="7" fill="#000"/>
<rect x="1353" y="154" width="3" height="5" fill="#fff"/>
<rect x="1362" y="148" width="1" height="19" fill="#000"/>
<rect x="1360" y="153" width="5" height="7" fill="#000"/>
<rect x="1370" y="158" width="1" height="23" fill="#000"/>
<rect x="1368" y="160" width="5" height="4" fill="#000"/>
<rect x="1378" y="144" width="1" height="24" fill="#000"/>
<rect x="1376" y="158" width="5" height="6" fill="#000"/>
<rect x="1377" y="159" width="3" height="4" fill="#fff"/>
<rect x="1386" y="149" width="1" height="12" fill="#000"/>
<rect x="1384" y="158" width="5" height="1" fill="#000"/>
<rect x="1394" y="130" width="1" height="35" fill="#000"/>
<rect x="1392" y="133" width="5" height="25" fill="#000"/>
<rect x="1393" y="134" width="3" height="23" fill="#fff"/>
<rect x="1402" y="120" width="1" height="14" fill="#000"/>
<rect x="1400" y="121" width="5" height="11" fill="#000"/>
<rect x="1401" y="122" width="3" height="9" fill="#fff"/>
<rect x="1410" y="88" width="1" height="36" fill="#000"/>
<rect x="1408" y="89" width="5" height="32" fill="#000"/>
<rect x="1409" y="90" width="3" height="30" fill="#fff"/>
<rect x="1418" y="55" width="1" height="37" fill="#000"/>
<rect x="1416" y="64" width="5" height="26" fill="#000"/>
<rect x="1417" y="65" width="3" height="24" fill="#fff"/>
<rect x="1426" y="62" width="1" height="35" fill="#000"/>
<rect x="1424" y="64" width="5" height="28" fill="#000"/>
</g>
<g shape-rendering="crispEdges">
<rect x="2" y="640" width="1" height="27" fill="#c0c0c0"/>
<rect x="10" y="638" width="1" height="29" fill="#c0c0c0"/>
<rect x="18" y="639" width="1" height="28" fill="#c0c0c0"/>
<rect x="26" y="640" width="1" height="27" fill="#c0c0c0"/>
<rect x="34" y="641" width="1" height="26" fill="#c0c0c0"/>
<rect x="42" y="641" width="1" height="26" fill="#c0c0c0"/>
<rect x="50" y="639" width="1" height="28" fill="#c0c0c0"/>
<rect x="58" y="633" width="1" height="34" fill="#c0c0c0"/>
<rect x="66" y="623" width="1" height="44" fill="#c0c0c0"/>
<rect x="74" y="615" width="1" height="52" fill="#c0c0c0"/>
<rect x="82" y="609" width="1" height="58" fill="#c0c0c0"/>
<rect x="90" y="608" width="1" height="59" fill="#c0c0c0"/>
<rect x="98" y="606" width="1" height="61" fill="#c0c0c0"/>
<rect x="106" y="604" width="1" height="63" fill="#c0c0c0"/>
<rect x="114" y="605" width="1" height="62" fill="#c0c0c0"/>
<rect x="122" y="608" width="1" height="59" fill="#c0c0c0"/>
<rect x="130" y="609" width="1" height="58" fill="#c0c0c0"/>
<rect x="138" y="607" width="1" height="60" fill="#c0c0c0"/>
<rect x="146" y="606" width="1" height="61" fill="#c0c0c0"/>
<rect x="154" y="603" width="1" height="64" fill="#c0c0c0"/>
<rect x="162" y="603" width="1" height="64" fill="#c0c0c0"/>
<rect x="170" y="603" width="1" height="64" fill="#c0c0c0"/>
<rect x="178" y="607" width="1" height="60" fill="#c0c0c0"/>
<rect x="186" y="609" width="1" height="58" fill="#c0c0c0"/>
<rect x="194" y="612" width="1" height="55" fill="#c0c0c0"/>
<rect x="202" y="613" width="1" height="54" fill="#c0c0c0"/>
<rect x="210" y="620" width="1" height="47" fill="#c0c0c0"/>
<rect x="218" y="625" width="1" height="42" fill="#c0c0c0"/>
<rect x="226" y="630" width="1" height="37" fill="#c0c0c0"/>
<rect x="234" y="628" width="1" height="39" fill="#c0c0c0"/>
<rect x="242" y="626" width="1" height="41" fill="#c0c0c0"/>
<rect x="250" y="622" width="1" height="45" fill="#c0c0c0"/>
<rect x="258" y="619" width="1" height="48" fill="#c0c0c0"/>
<rect x="266" y="617" width="1" height="50" fill="#c0c0c0"/>
<rect x="274" y="612" width="1" height="55" fill="#c0c0c0"/>
<rect x="282" y="607" width="1" height="60" fill="#c0c0c0"/>
<rect x="290" y="605" width="1" height="62" fill="#c0c0c0"/>
<rect x="298" y="609" width="1" height="58" fill="#c0c0c0"/>
<rect x="306" y="611" width="1" height="56" fill="#c0c0c0"/>
<rect x="314" y="615" width="1" height="52" fill="#c0c0c0"/>
<rect x="322" y="622" width="1" height="45" fill="#c0c0c0"/>
<rect x="330" y="641" width="1" height="26" fill="#c0c0c0"/>
<rect x="338" y="652" width="1" height="15" fill="#c0c0c0"/>
<rect x="346" y="667" width="1" height="3" fill="#c0c0c0"/>
<rect x="354" y="667" width="1" height="20" fill="#c0c0c0"/>
<rect x="362" y="667" width="1" height="30" fill="#c0c0c0"/>
<rect x="370" y="667" width="1" height="40" fill="#c0c0c0"/>
<rect x="378" y="667" width="1" height="47" fill="#c0c0c0"/>
<rect x="386" y="667" width="1" height="50" fill="#c0c0c0"/>
<rect x="394" y="667" width="1" height="52" fill="#c0c0c0"/>
<rect x="402" y="667" width="1" height="57" fill="#c0c0c0"/>
<rect x="410" y="667" width="1" height="61" fill="#c0c0c0"/>
<rect x="418" y="667" width="1" height="68" fill="#c0c0c0"/>
<rect x="426" y="667" width="1" height="73" fill="#c0c0c0"/>
<rect x="434" y="667" width="1" height="78" fill="#c0c0c0"/>
<rect x="442" y="667" width="1" height="76" fill="#c0c0c0"/>
<rect x="450" y="667" width="1" height="76" fill="#c0c0c0"/>
<rect x="458" y="667" width="1" height="71" fill="#c0c0c0"/>
<rect x="466" y="667" width="1" height="63" fill="#c0c0c0"/>
<rect x="474" y="667" width="1" height="56" fill="#c0c0c0"/>
<rect x="482" y="667" width="1" height="48" fill="#c0c0c0"/>
<rect x="490" y="667" width="1" height="42" fill="#c0c0c0"/>
<rect x="498" y="667" width="1" height="35" fill="#c0c0c0"/>
<rect x="506" y="667" width="1" height="29" fill="#c0c0c0"/>
<rect x="514" y="667" width="1" height="20" fill="#c0c0c0"/>
<rect x="522" y="667" width="1" height="18" fill="#c0c0c0"/>
<rect x="530" y="667" width="1" height="13" fill="#c0c0c0"/>
<rect x="538" y="667" width="1" height="7" fill="#c0c0c0"/>
<rect x="554" y="663" width="1" height="4" fill="#c0c0c0"/>
<rect x="562" y="659" width="1" height="8" fill="#c0c0c0"/>
<rect x="570" y="661" width="1" height="6" fill="#c0c0c0"/>
<rect x="578" y="662" width="1" height="5" fill="#c0c0c0"/>
<rect x="586" y="666" width="1" height="1" fill="#c0c0c0"/>
<rect x="602" y="667" width="1" height="2" fill="#c0c0c0"/>
<rect x="618" y="667" width="1" height="1" fill="#c0c0c0"/>
<rect x="626" y="665" width="1" height="2" fill="#c0c0c0"/>
<rect x="634" y="663" width="1" height="4" fill="#c0c0c0"/>
<rect x="642" y="666" width="1" height="1" fill="#c0c0c0"/>
<rect x="650" y="666" width="1" height="1" fill="#c0c0c0"/>
<rect x="658" y="666" width="1" height="1" fill="#c0c0c0"/>
<rect x="674" y="667" width="1" height="6" fill="#c0c0c0"/>
<rect x="682" y="667" width="1" height="10" fill="#c0c0c0"/>
<rect x="690" y="667" width="1" height="13" fill="#c0c0c0"/>
<rect x="698" y="667" width="1" height="17" fill="#c0c0c0"/>
<rect x="706" y="667" width="1" height="19" fill="#c0c0c0"/>
<rect x="714" y="667" width="1" height="11" fill="#c0c0c0"/>
<rect x="722" y="667" width="1" height="14" fill="#c0c0c0"/>
<rect x="730" y="667" width="1" height="11" fill="#c0c0c0"/>
<rect x="738" y="667" width="1" height="12" fill="#c0c0c0"/>
<rect x="746" y="667" width="1" height="10" fill="#c0c0c0"/>
<rect x="754" y="666" width="1" height="1" fill="#c0c0c0"/>
<rect x="762" y="651" width="1" height="16" fill="#c0c0c0"/>
<rect x="770" y="641" width="1" height="26" fill="#c0c0c0"/>
<rect x="778" y="639" width="1" height="28" fill="#c0c0c0"/>
<rect x="786" y="639" width="1" height="28" fill="#c0c0c0"/>
<rect x="794" y="637" width="1" height="30" fill="#c0c0c0"/>
<rect x="802" y="636" width="1" height="31" fill="#c0c0c0"/>
<rect x="810" y="637" width="1" height="30" fill="#c0c0c0"/>
<rect x="818" y="639" width="1" height="28" fill="#c0c0c0"/>
<rect x="826" y="642" width="1" height="25" fill="#c0c0c0"/>
<rect x="834" y="643" width="1" height="24" fill="#c0c0c0"/>
<rect x="842" y="643" width="1" height="24" fill="#c0c0c0"/>
<rect x="850" y="639" width="1" height="28" fill="#c0c0c0"/>
<rect x="858" y="633" width="1" height="34" fill="#c0c0c0"/>
<rect x="866" y="628" width="1" height="39" fill="#c0c0c0"/>
<rect x="874" y="628" width="1" height="39" fill="#c0c0c0"/>
<rect x="882" y="632" width="1" height="35" fill="#c0c0c0"/>
<rect x="890" y="633" width="1" height="34" fill="#c0c0c0"/>
<rect x="898" y="635" width="1" height="32" fill="#c0c0c0"/>
<rect x="906" y="630" width="1" height="37" fill="#c0c0c0"/>
<rect x="914" y="629" width="1" height="38" fill="#c0c0c0"/>
<rect x="922" y="629" width="1" height="38" fill="#c0c0c0"/>
<rect x="930" y="628" width="1" height="39" fill="#c0c0c0"/>
<rect x="938" y="628" width="1" height="39" fill="#c0c0c0"/>
<rect x="946" y="633" width="1" height="34" fill="#c0c0c0"/>
<rect x="954" y="636" width="1" height="31" fill="#c0c0c0"/>
<rect x="962" y="638" width="1" height="29" fill="#c0c0c0"/>
<rect x="970" y="643" width="1" height="24" fill="#c0c0c0"/>
<rect x="978" y="652" width="1" height="15" fill="#c0c0c0"/>
<rect x="986" y="656" width="1" height="11" fill="#c0c0c0"/>
<rect x="994" y="658" width="1" height="9" fill="#c0c0c0"/>
<rect x="1002" y="656" width="1" height="11" fill="#c0c0c0"/>
<rect x="1010" y="653" width="1" height="14" fill="#c0c0c0"/>
<rect x="1018" y="649" width="1" height="18" fill="#c0c0c0"/>
<rect x="1026" y="650" width="1" height="17" fill="#c0c0c0"/>
<rect x="1034" y="653" width="1" height="14" fill="#c0c0c0"/>
<rect x="1042" y="655" width="1" height="12" fill="#c0c0c0"/>
<rect x="1050" y="658" width="1" height="9" fill="#c0c0c0"/>
<rect x="1058" y="654" width="1" height="13" fill="#c0c0c0"/>
<rect x="1066" y="650" width="1" height="17" fill="#c0c0c0"/>
<rect x="1074" y="648" width="1" height="19" fill="#c0c0c0"/>
<rect x="1082" y="647" width="1" height="20" fill="#c0c0c0"/>
<rect x="1090" y="647" width="1" height="20" fill="#c0c0c0"/>
<rect x="1098" y="644" width="1" height="23" fill="#c0c0c0"/>
<rect x="1106" y="640" width="1" height="27" fill="#c0c0c0"/>
<rect x="1114" y="636" width="1" height="31" fill="#c0c0c0"/>
<rect x="1122" y="641" width="1" height="26" fill="#c0c0c0"/>
<rect x="1130" y="642" width="1" height="25" fill="#c0c0c0"/>
<rect x="1138" y="641" width="1" height="26" fill="#c0c0c0"/>
<rect x="1146" y="641" width="1" height="26" fill="#c0c0c0"/>
<rect x="1154" y="639" width="1" height="28" fill="#c0c0c0"/>
<rect x="1162" y="641" width="1" height="26" fill="#c0c0c0"/>
<rect x="1170" y="641" width="1" height="26" fill="#c0c0c0"/>
<rect x="1178" y="636" width="1" height="31" fill="#c0c0c0"/>
<rect x="1186" y="633" width="1" height="34" fill="#c0c0c0"/>
<rect x="1194" y="632" width="1" height="35" fill="#c0c0c0"/>
<rect x="1202" y="633" width="1" height="34" fill="#c0c0c0"/>
<rect x="1210" y="635" width="1" height="32" fill="#c0c0c0"/>
<rect x="1218" y="638" width="1" height="29" fill="#c0c0c0"/>
<rect x="1226" y="637" width="1" height="30" fill="#c0c0c0"/>
<rect x="1234" y="637" width="1" height="30" fill="#c0c0c0"/>
<rect x="1242" y="635" width="1" height="32" fill="#c0c0c0"/>
<rect x="1250" y="634" width="1" height="33" fill="#c0c0c0"/>
<rect x="1258" y="635" width="1" height="32" fill="#c0c0c0"/>
<rect x="1266" y="634" width="1" height="33" fill="#c0c0c0"/>
<rect x="1274" y="633" width="1" height="34" fill="#c0c0c0"/>
<rect x="1282" y="634" width="1" height="33" fill="#c0c0c0"/>
<rect x="1290" y="629" width="1" height="38" fill="#c0c0c0"/>
<rect x="1298" y="625" width="1" height="42" fill="#c0c0c0"/>
<rect x="1306" y="622" width="1" height="45" fill="#c0c0c0"/>
<rect x="1314" y="621" width="1" height="46" fill="#c0c0c0"/>
<rect x="1322" y="620" width="1" height="47" fill="#c0c0c0"/>
<rect x="1330" y="621" width="1" height="46" fill="#c0c0c0"/>
<rect x="1338" y="617" width="1" height="50" fill="#c0c0c0"/>
<rect x="1346" y="613" width="1" height="54" fill="#c0c0c0"/>
<rect x="1354" y="611" width="1" height="56" fill="#c0c0c0"/>
<rect x="1362" y="610" width="1" height="57" fill="#c0c0c0"/>
<rect x="1370" y="610" width="1" height="57" fill="#c0c0c0"/>
<rect x="1378" y="610" width="1" height="57" fill="#c0c0c0"/>
<rect x="1386" y="611" width="1" height="56" fill="#c0c0c0"/>
<rect x="1394" y="609" width="1" height="58" fill="#c0c0c0"/>
<rect x="1402" y="606" width="1" height="61" fill="#c0c0c0"/>
<rect x="1410" y="602" width="1" height="65" fill="#c0c0c0"/>
<rect x="1418" y="594" width="1" height="73" fill="#c0c0c0"/>
<rect x="1426" y="593" width="1" height="74" fill="#c0c0c0"/>
</g>
<path d="M-5.5 650.9 L2.5 649.4 L10.5 647.9 L18.5 646.1 L26.5 645.4 L34.5 643.6 L42.5 641.9 L50.5 640.6 L58.5 639.1 L66.5 635.4 L74.5 633.2 L82.5 630.4 L90.5 626.7 L98.5 622.4 L106.5 618.7 L114.5 614.9 L122.5 610.7 L130.5 609.4 L138.5 607.0 L146.5 606.5 L154.5 605.0 L162.5 604.7 L170.5 604.2 L178.5 605.0 L186.5 605.5 L194.5 606.2 L202.5 606.5 L210.5 607.0 L218.5 610.4 L226.5 612.4 L234.5 614.9 L242.5 617.9 L250.5 619.2 L258.5 621.2 L266.5 621.4 L274.5 621.2 L282.5 619.9 L290.5 617.9 L298.5 616.2 L306.5 612.9 L314.5 612.4 L322.5 612.4 L330.5 614.4 L338.5 617.9 L346.5 624.9 L354.5 634.4 L362.5 643.6 L370.5 654.9 L378.5 667.3 L386.5 679.3 L394.5 689.8 L402.5 699.3 L410.5 708.0 L418.5 716.0 L426.5 721.0 L434.5 726.7 L442.5 730.5 L450.5 733.5 L458.5 736.7 L466.5 737.2 L474.5 737.2 L482.5 735.2 L490.5 732.2 L498.5 728.5 L506.5 723.5 L514.5 716.8 L522.5 710.3 L530.5 704.3 L538.5 697.3 L546.5 689.8 L554.5 683.6 L562.5 678.6 L570.5 674.3 L578.5 670.3 L586.5 667.8 L594.5 666.1 L602.5 665.6 L610.5 664.9 L618.5 664.9 L626.5 664.9 L634.5 665.4 L642.5 665.6 L650.5 665.6 L658.5 665.6 L666.5 666.6 L674.5 666.6 L682.5 667.3 L690.5 668.1 L698.5 670.6 L706.5 673.6 L714.5 675.3 L722.5 676.8 L730.5 677.8 L738.5 680.3 L746.5 680.3 L754.5 679.1 L762.5 676.1 L770.5 671.8 L778.5 666.1 L786.5 661.1 L794.5 657.4 L802.5 651.9 L810.5 646.9 L818.5 642.4 L826.5 639.4 L834.5 638.6 L842.5 639.9 L850.5 638.6 L858.5 637.9 L866.5 637.4 L874.5 636.2 L882.5 635.4 L890.5 635.4 L898.5 633.7 L906.5 631.7 L914.5 630.7 L922.5 629.9 L930.5 629.4 L938.5 629.4 L946.5 629.9 L954.5 630.4 L962.5 631.7 L970.5 631.9 L978.5 633.7 L986.5 637.9 L994.5 639.9 L1002.5 643.1 L1010.5 646.1 L1018.5 648.1 L1026.5 649.1 L1034.5 651.1 L1042.5 652.4 L1050.5 653.6 L1058.5 653.6 L1066.5 651.9 L1074.5 651.1 L1082.5 650.6 L1090.5 650.4 L1098.5 650.4 L1106.5 648.1 L1114.5 646.9 L1122.5 644.4 L1130.5 643.1 L1138.5 642.4 L1146.5 641.1 L1154.5 640.4 L1162.5 639.9 L1170.5 639.9 L1178.5 639.4 L1186.5 637.9 L1194.5 637.4 L1202.5 636.9 L1210.5 635.4 L1218.5 635.4 L1226.5 634.9 L1234.5 634.9 L1242.5 634.4 L1250.5 634.4 L1258.5 634.4 L1266.5 634.2 L1274.5 633.9 L1282.5 634.2 L1290.5 632.9 L1298.5 631.7 L1306.5 630.4 L1314.5 627.9 L1322.5 626.9 L1330.5 625.7 L1338.5 623.7 L1346.5 621.9 L1354.5 619.4 L1362.5 617.4 L1370.5 615.7 L1378.5 613.7 L1386.5 612.4 L1394.5 611.2 L1402.5 609.4 L1410.5 608.2 L1418.5 605.0 L1426.5 602.5" fill="none" stroke="#ff0000" stroke-width="1" stroke-dasharray="3 3" shape-rendering="crispEdges"/>
<g shape-rendering="crispEdges">
<line x1="3" y1="791.5" x2="1676" y2="791.5" stroke="#c0c0c0" stroke-width="1" stroke-dasharray="3 3"/>
<line x1="3" y1="842.5" x2="1676" y2="842.5" stroke="#c0c0c0" stroke-width="1" stroke-dasharray="3 3"/>
<line x1="3" y1="903.5" x2="1676" y2="903.5" stroke="#c0c0c0" stroke-width="1" stroke-dasharray="3 3"/>
</g>
<path d="M-5.5 818.4 L2.5 815.4 L10.5 822.9 L18.5 831.1 L26.5 830.4 L34.5 829.4 L42.5 827.4 L50.5 821.1 L58.5 809.9 L66.5 799.4 L74.5 798.2 L82.5 798.2 L90.5 809.4 L98.5 805.4 L106.5 804.2 L114.5 814.4 L122.5 817.4 L130.5 811.1 L138.5 807.9 L146.5 803.7 L154.5 799.9 L162.5 808.6 L170.5 806.7 L178.5 822.4 L186.5 816.6 L194.5 824.4 L202.5 817.4 L210.5 836.6 L218.5 835.4 L226.5 836.6 L234.5 820.6 L242.5 820.6 L250.5 812.4 L258.5 814.4 L266.5 812.4 L274.5 806.7 L282.5 804.2 L290.5 806.7 L298.5 826.1 L306.5 821.6 L314.5 827.4 L322.5 841.1 L330.5 866.5 L338.5 857.3 L346.5 872.3 L354.5 873.5 L362.5 870.3 L370.5 871.5 L378.5 871.5 L386.5 866.0 L394.5 868.5 L402.5 874.8 L410.5 873.0 L418.5 880.3 L426.5 882.3 L434.5 882.3 L442.5 871.5 L450.5 872.3 L458.5 866.0 L466.5 851.6 L474.5 848.6 L482.5 845.3 L490.5 847.3 L498.5 843.6 L506.5 841.8 L514.5 829.4 L522.5 846.1 L530.5 836.8 L538.5 832.9 L546.5 828.6 L554.5 829.4 L562.5 829.4 L570.5 846.1 L578.5 841.6 L586.5 851.1 L594.5 847.3 L602.5 847.3 L610.5 843.6 L618.5 842.3 L626.5 831.1 L634.5 835.4 L642.5 845.3 L650.5 843.1 L658.5 846.1 L666.5 849.1 L674.5 859.1 L682.5 862.3 L690.5 854.3 L698.5 860.3 L706.5 857.3 L714.5 831.1 L722.5 852.3 L730.5 844.3 L738.5 847.3 L746.5 844.3 L754.5 822.4 L762.5 815.4 L770.5 816.9 L778.5 833.1 L786.5 834.4 L794.5 829.4 L802.5 831.1 L810.5 833.1 L818.5 836.8 L826.5 839.1 L834.5 836.1 L842.5 833.6 L850.5 822.4 L858.5 819.1 L866.5 818.1 L874.5 824.9 L882.5 836.8 L890.5 832.9 L898.5 829.4 L906.5 821.6 L914.5 826.1 L922.5 826.1 L930.5 823.1 L938.5 824.9 L946.5 839.1 L954.5 835.4 L962.5 833.6 L970.5 843.6 L978.5 856.1 L986.5 845.3 L994.5 843.1 L1002.5 834.1 L1010.5 830.4 L1018.5 827.4 L1026.5 833.6 L1034.5 845.3 L1042.5 841.6 L1050.5 844.3 L1058.5 831.1 L1066.5 826.1 L1074.5 825.4 L1082.5 836.6 L1090.5 835.4 L1098.5 827.9 L1106.5 822.9 L1114.5 820.4 L1122.5 838.1 L1130.5 838.1 L1138.5 833.6 L1146.5 828.6 L1154.5 827.4 L1162.5 831.1 L1170.5 829.4 L1178.5 819.1 L1186.5 820.4 L1194.5 816.1 L1202.5 834.4 L1210.5 834.4 L1218.5 836.1 L1226.5 825.4 L1234.5 829.4 L1242.5 823.6 L1250.5 823.6 L1258.5 824.4 L1266.5 826.1 L1274.5 824.9 L1282.5 822.4 L1290.5 810.6 L1298.5 807.4 L1306.5 809.1 L1314.5 809.9 L1322.5 809.4 L1330.5 813.6 L1338.5 803.2 L1346.5 798.7 L1354.5 797.4 L1362.5 801.9 L1370.5 806.2 L1378.5 804.4 L1386.5 804.4 L1394.5 797.4 L1402.5 794.4 L1410.5 787.4 L1418.5 782.4 L1426.5 802.4" fill="none" stroke="#1e90ff" stroke-width="1" shape-rendering="crispEdges"/>
<g shape-rendering="crispEdges" fill="#000">
<rect x="0" y="28" width="1677" height="1"/>
<rect x="1676" y="28" width="1" height="902"/>
<rect x="0" y="929" width="1677" height="1"/>
<rect x="0" y="581" width="1677" height="1"/>
<rect x="0" y="583" width="1677" height="1"/>
<rect x="0" y="753" width="1677" height="1"/>
<rect x="0" y="755" width="1677" height="1"/>
<rect x="0" y="582" width="1676" height="1" fill="#fff"/>
<rect x="0" y="754" width="1676" height="1" fill="#fff"/>
<rect x="50" y="930" width="1" height="3"/>
<rect x="114" y="930" width="1" height="3"/>
<rect x="178" y="930" width="1" height="3"/>
<rect x="242" y="930" width="1" height="3"/>
<rect x="306" y="930" width="1" height="3"/>
<rect x="370" y="930" width="1" height="3"/>
<rect x="434" y="930" width="1" height="3"/>
<rect x="498" y="930" width="1" height="3"/>
<rect x="562" y="930" width="1" height="3"/>
<rect x="626" y="930" width="1" height="3"/>
<rect x="690" y="930" width="1" height="3"/>
<rect x="754" y="930" width="1" height="3"/>
<rect x="818" y="930" width="1" height="3"/>
<rect x="882" y="930" width="1" height="3"/>
<rect x="946" y="930" width="1" height="3"/>
<rect x="1010" y="930" width="1" height="3"/>
<rect x="1074" y="930" width="1" height="3"/>
<rect x="1138" y="930" width="1" height="3"/>
<rect x="1202" y="930" width="1" height="3"/>
<rect x="1266" y="930" width="1" height="3"/>
<rect x="1330" y="930" width="1" height="3"/>
<rect x="1394" y="930" width="1" height="3"/>
<rect x="1677" y="149" width="3" height="1"/>
<rect x="1677" y="182" width="3" height="1"/>
<rect x="1677" y="215" width="3" height="1"/>
<rect x="1677" y="248" width="3" height="1"/>
<rect x="1677" y="281" width="3" height="1"/>
<rect x="1677" y="315" width="3" height="1"/>
<rect x="1677" y="348" width="3" height="1"/>
<rect x="1677" y="381" width="3" height="1"/>
<rect x="1677" y="414" width="3" height="1"/>
<rect x="1677" y="447" width="3" height="1"/>
<rect x="1677" y="480" width="3" height="1"/>
<rect x="1677" y="513" width="3" height="1"/>
<rect x="1677" y="546" width="3" height="1"/>
<rect x="1677" y="579" width="3" height="1"/>
<rect x="1677" y="83" width="3" height="1"/>
<rect x="1677" y="50" width="3" height="1"/>
<rect x="1677" y="116" width="3" height="1"/>
<rect x="1677" y="667" width="3" height="1"/>
</g>
<rect x="1375" y="70" width="112" height="6" fill="#00ff00" shape-rendering="crispEdges"/>
<line x1="1043.2" y1="398.6" x2="1445.1" y2="47.5" stroke="#ff0000" stroke-width="3.1"/><polygon points="1452.3,41.3 1446.7,52.3 1440.6,45.4" fill="#ff0000"/>
<line x1="1031.0" y1="652.4" x2="1422.6" y2="600.7" stroke="#ff0000" stroke-width="3.0"/><polygon points="1431.5,599.5 1421.2,605.2 1420.0,596.7" fill="#ff0000"/>
<line x1="1205.6" y1="841.8" x2="1400.9" y2="785.1" stroke="#ff0000" stroke-width="3.2"/><polygon points="1410.0,782.4 1400.2,790.0 1397.7,781.2" fill="#ff0000"/>
<line x1="1409.7" y1="782.4" x2="1424.9" y2="790.0" stroke="#ff0000" stroke-width="3.2"/><polygon points="1432.5,793.8 1421.1,793.2 1425.2,785.0" fill="#ff0000"/>
<g shape-rendering="crispEdges" fill="#ff0000">
<rect x="273" y="226" width="9" height="1"/>
<rect x="761" y="313" width="9" height="1"/>
<rect x="681" y="520" width="9" height="1"/>
<rect x="1033" y="430" width="9" height="1"/>
<rect x="417" y="567" width="9" height="1"/>
</g>
<rect x="211.5" y="217.5" width="61" height="18" fill="#fff" stroke="#ff0000" stroke-width="1" shape-rendering="crispEdges"/><text x="242.0" y="232.3" font-size="16" fill="#ff0000" text-anchor="middle">142.715</text>
<rect x="699.5" y="304.5" width="61" height="18" fill="#fff" stroke="#ff0000" stroke-width="1" shape-rendering="crispEdges"/><text x="730.0" y="319.3" font-size="16" fill="#ff0000" text-anchor="middle">140.248</text>
<rect x="619.5" y="511.5" width="61" height="18" fill="#fff" stroke="#ff0000" stroke-width="1" shape-rendering="crispEdges"/><text x="650.0" y="526.3" font-size="16" fill="#ff0000" text-anchor="middle">134.382</text>
<rect x="971.5" y="421.5" width="61" height="18" fill="#fff" stroke="#ff0000" stroke-width="1" shape-rendering="crispEdges"/><text x="1002.0" y="436.3" font-size="16" fill="#ff0000" text-anchor="middle">136.933</text>
<rect x="978" y="421" width="1" height="16" fill="#000" shape-rendering="crispEdges"/>
<rect x="355.5" y="558.5" width="61" height="18" fill="#fff" stroke="#ff0000" stroke-width="1" shape-rendering="crispEdges"/><text x="386.0" y="573.3" font-size="16" fill="#ff0000" text-anchor="middle">133.049</text>
<rect x="1301.5" y="60.5" width="73" height="24" fill="#fff" stroke="#ff0000" stroke-width="1" shape-rendering="crispEdges"/><text x="1338.0" y="79.7" font-size="20" fill="#ff0000" text-anchor="middle">147.066</text>
<rect x="1339.5" y="45.5" width="61" height="18" fill="#fff" stroke="#ff0000" stroke-width="1" shape-rendering="crispEdges"/><text x="1370.0" y="60.3" font-size="16" fill="#ff0000" text-anchor="middle">147.573</text>
<rect x="1401.5" y="52.5" width="3" height="3" fill="#fff" stroke="#ff0000" stroke-width="1" shape-rendering="crispEdges"/>
<polygon points="1433.5,29 1443.5,29 1438.5,34.2" fill="#c0c0c0"/>
<g shape-rendering="crispEdges">
</g>
<g font-size="8.9" fill="#000">
<text x="1683" y="86.3">146.770</text>
<text x="1683" y="53.2">147.695</text>
<text x="1683" y="119.4">145.820</text>
<text x="1683" y="152.5">144.895</text>
<text x="1683" y="185.6">143.970</text>
<text x="1683" y="218.6">143.020</text>
<text x="1683" y="251.7">142.095</text>
<text x="1683" y="284.8">141.145</text>
<text x="1683" y="317.8">140.220</text>
<text x="1683" y="350.9">139.295</text>
<text x="1683" y="384.0">138.345</text>
<text x="1683" y="417.1">137.420</text>
<text x="1683" y="450.1">136.470</text>
<text x="1683" y="483.2">135.545</text>
<text x="1683" y="516.3">134.620</text>
<text x="1683" y="549.3">133.670</text>
<text x="1683" y="582.4">132.745</text>
<text x="1681" y="594">1.3904</text>
<text x="1681" y="670.5">0.00</text>
<text x="1679" y="750">-1.4521</text>
<text x="1680" y="765.2">100</text>
<text x="1680" y="795">80</text>
<text x="1680" y="846">50</text>
<text x="1680" y="907">15</text>
<text x="1680" y="926">0</text>
<text x="-14" y="941.5" font-size="9.2">20 Jul 2020</text>
<text x="50" y="941.5" font-size="9.2">29 Jul 2020</text>
<text x="114" y="941.5" font-size="9.2">7 Aug 2020</text>
<text x="178" y="941.5" font-size="9.2">17 Aug 2020</text>
<text x="242" y="941.5" font-size="9.2">26 Aug 2020</text>
<text x="306" y="941.5" font-size="9.2">4 Sep 2020</text>
<text x="370" y="941.5" font-size="9.2">14 Sep 2020</text>
<text x="434" y="941.5" font-size="9.2">23 Sep 2020</text>
<text x="498" y="941.5" font-size="9.2">2 Oct 2020</text>
<text x="562" y="941.5" font-size="9.2">12 Oct 2020</text>
<text x="626" y="941.5" font-size="9.2">21 Oct 2020</text>
<text x="690" y="941.5" font-size="9.2">30 Oct 2020</text>
<text x="754" y="941.5" font-size="9.2">9 Nov 2020</text>
<text x="818" y="941.5" font-size="9.2">18 Nov 2020</text>
<text x="882" y="941.5" font-size="9.2">27 Nov 2020</text>
<text x="946" y="941.5" font-size="9.2">7 Dec 2020</text>
<text x="1010" y="941.5" font-size="9.2">16 Dec 2020</text>
<text x="1074" y="941.5" font-size="9.2">27 Dec 2020</text>
<text x="1138" y="941.5" font-size="9.2">6 Jan 2021</text>
<text x="1202" y="941.5" font-size="9.2">15 Jan 2021</text>
<text x="1266" y="941.5" font-size="9.2">25 Jan 2021</text>
<text x="1330" y="941.5" font-size="9.2">3 Feb 2021</text>
<text x="1394" y="941.5" font-size="9.2">12 Feb 2021</text>
<text x="1" y="39.1" font-size="9.4" textLength="209" lengthAdjust="spacingAndGlyphs" style="white-space:pre">GBPJPY-,Daily  147.329 147.347 146.398 146.525</text>
<text x="-8.2" y="595.2" font-size="9.4">MACD(12,26,9) 1.2612 1.0643</text>
<text x="-10.4" y="767" font-size="9.4">RSI(14) 73.0207</text>
</g>
<rect x="1678" y="30" width="41" height="11" fill="#ff0000" shape-rendering="crispEdges"/><text x="1683" y="39" font-size="8.9" fill="#fff">148.082</text>
<rect x="1678" y="48" width="41" height="11" fill="#ff0000" shape-rendering="crispEdges"/><text x="1683" y="57" font-size="8.9" fill="#fff">147.573</text>
<rect x="1678" y="66" width="41" height="11" fill="#32cd32" shape-rendering="crispEdges"/><text x="1683" y="75" font-size="8.9" fill="#fff">147.066</text>
<rect x="1678" y="86" width="41" height="11" fill="#000000" shape-rendering="crispEdges"/><text x="1683" y="95" font-size="8.9" fill="#fff">146.525</text>
<rect x="1678" y="100" width="41" height="11" fill="#0000ff" shape-rendering="crispEdges"/><text x="1683" y="109" font-size="8.9" fill="#fff">146.112</text>
<rect x="1678" y="115" width="41" height="11" fill="#0000ff" shape-rendering="crispEdges"/><text x="1683" y="124" font-size="8.9" fill="#fff">145.678</text>
<text x="1483.6" y="93.7" font-size="20.7" fill="#00ff00" letter-spacing="1.2" style="font-family:'Liberation Serif','Noto Serif CJK SC',serif;">多空转折点</text>
<g id="toolbar"><defs>
<pattern id="chk" width="2" height="2" patternUnits="userSpaceOnUse"><rect width="2" height="2" fill="#fff"/><rect width="1" height="1" fill="#ebebeb"/><rect x="1" y="1" width="1" height="1" fill="#ebebeb"/></pattern>
<linearGradient id="gGold" x1="0" y1="0" x2="1" y2="1"><stop offset="0" stop-color="#fbe060"/><stop offset="1" stop-color="#c08018"/></linearGradient>
<linearGradient id="gGreen" x1="0" y1="0" x2="0" y2="1"><stop offset="0" stop-color="#50e050"/><stop offset="1" stop-color="#0a9a0a"/></linearGradient>
<radialGradient id="gBadge" cx="0.4" cy="0.3" r="0.8"><stop offset="0" stop-color="#f06040"/><stop offset="1" stop-color="#c81000"/></radialGradient>
<radialGradient id="gClock" cx="0.4" cy="0.3" r="0.8"><stop offset="0" stop-color="#40a0f0"/><stop offset="1" stop-color="#0848a8"/></radialGradient>
<linearGradient id="gBlue" x1="0" y1="0" x2="1" y2="1"><stop offset="0" stop-color="#40b0ff"/><stop offset="1" stop-color="#1060d0"/></linearGradient>
</defs>
<rect x="-3" y="5" width="4" height="14" fill="#dcdcdc"/>
<rect x="12.3" y="4.4" width="12" height="13.3" rx="1" fill="#fbfaf6" stroke="#a09078" stroke-width="1"/>
<g stroke="#707070" stroke-width="1" fill="none"><path d="M15 6.5 v9 M14 10 h2 M21.5 6.5 v5 M20 8 h3"/></g>
<line x1="24" y1="16.5" x2="29" y2="20.6" stroke="#c89820" stroke-width="2.6" stroke-linecap="round"/>
<circle cx="20.4" cy="13.4" r="5" fill="#e6f2fc" fill-opacity="0.85" stroke="#5a8ad8" stroke-width="1.3"/>
<rect x="18.5" y="10.5" width="2.6" height="5" fill="#a8b4c4"/>
<rect x="36.8" y="1.5" width="1.2" height="20" fill="#a0a0a0"/>
<path d="M48.5 4.4 H54.9 L58.9 8.4 V16.8 Q58.9 17.8 57.9 17.8 H48.5 Q47.5 17.8 47.5 16.8 V5.4 Q47.5 4.4 48.5 4.4 Z" fill="#fdfdfd" stroke="#686868" stroke-width="1.1"/>
<path d="M54.9 4.4 V8.4 H58.9" fill="#e0e0e0" stroke="#686868" stroke-width="0.8"/>
<g stroke="#808080" stroke-width="1"><path d="M50 7.3 h3 M49.5 10.5 h6 M49.5 12.8 h6 M49.5 15 h4"/></g>
<path d="M55.599999999999994 10.999999999999998 h3.4 v3.7 h3.7 v3.4 h-3.7 v3.7 h-3.4 v-3.7 h-3.7 v-3.4 h3.7 z" fill="url(#gGreen)" stroke="#0a8a0a" stroke-width="0.8"/>
<polygon points="114,13.8 122.2,19.9 130,12.6 129.6,11 122,17.6 114.6,12.4" fill="#b87818" stroke="#a06010" stroke-width="0.7"/>
<path d="M119.4 5.4 Q118.6 6.6 119.6 7.2 L114.4 12.6 L122 18 L129.6 11.4 L120.6 5 Q119.8 4.8 119.4 5.4 Z" fill="url(#gGold)" stroke="#a86810" stroke-width="0.9"/>
<path d="M118.6 10.2 L123.6 14" fill="none" stroke="#fff4b8" stroke-width="2.4" stroke-opacity="0.55"/>
<path d="M144.2 5.2 L148 4.2 H155.4 V13 H144.2 Z" fill="url(#gBlue)" stroke="#1858c8" stroke-width="0.8"/>
<rect x="148.2" y="6.2" width="6.2" height="6" fill="#6cc0ff"/><rect x="149.5" y="8.2" width="4" height="1.2" fill="#fff"/>
<path d="M145 19.5 Q142 19.5 142.3 16.8 Q142.6 14.6 145.2 14.8 Q146 12.2 149 12.6 Q151 12.8 151.8 14.4 Q154 13.4 155.6 15 Q158 15.2 157.8 17.6 Q157.6 19.5 155.5 19.5 Z" fill="#f4f8ff" stroke="#5878b8" stroke-width="1"/>
<circle cx="177.8" cy="11.8" r="7.9" fill="#e4ecf4" fill-opacity="0.7"/>
<path d="M177.8 11.8 L185.6 11.8 A7.8 7.8 0 0 1 178.4 19.6 Z" fill="#58b058" fill-opacity="0.6"/>
<path d="M177.8 4.300000000000001 A7.5 7.5 0 0 0 177.8 19.3" fill="none" stroke="#3a68d0" stroke-opacity="0.95" stroke-width="1.3"/>
<path d="M177.8 4.300000000000001 A7.5 7.5 0 0 1 177.8 19.3" fill="none" stroke="#6a98a8" stroke-opacity="0.76" stroke-width="1.2"/>
<path d="M177.8 6.700000000000001 A5.1 5.1 0 0 0 177.8 16.9" fill="none" stroke="#3a68d0" stroke-opacity="0.85" stroke-width="1.3"/>
<path d="M177.8 6.700000000000001 A5.1 5.1 0 0 1 177.8 16.9" fill="none" stroke="#6a98a8" stroke-opacity="0.68" stroke-width="1.2"/>
<path d="M177.8 8.9 A2.9 2.9 0 0 0 177.8 14.700000000000001" fill="none" stroke="#3a68d0" stroke-opacity="0.7" stroke-width="1.3"/>
<path d="M177.8 8.9 A2.9 2.9 0 0 1 177.8 14.700000000000001" fill="none" stroke="#6a98a8" stroke-opacity="0.5599999999999999" stroke-width="1.2"/>
<circle cx="177.8" cy="11.6" r="1.8" fill="#1c4cc8"/><rect x="177.5" y="12" width="1.6" height="7.8" fill="#18a828"/>
<polygon points="197.3,12.6 213,10.8 204.8,19.8" fill="#f8d840" stroke="#d0a820" stroke-width="0.8"/>
<ellipse cx="205" cy="9.2" rx="8" ry="2.6" fill="#58a8e0" stroke="#2880b8" stroke-width="0.9"/><ellipse cx="205" cy="7" rx="4.2" ry="2.8" fill="#68b8ec" stroke="#2880b8" stroke-width="0.8"/>
<circle cx="209.5" cy="15.6" r="4.1" fill="#e02010" stroke="#b01000" stroke-width="0.6"/><rect x="208" y="14.2" width="3" height="2.8" fill="#fff"/>
<rect x="273" y="0" width="1" height="24" fill="#8c8c8c"/><rect x="274" y="0" width="1" height="24" fill="#fcfcfc"/>
<rect x="277" y="2.2" width="3" height="1" fill="#a8a8a8"/>
<rect x="277" y="4.2" width="3" height="1" fill="#a8a8a8"/>
<rect x="277" y="6.2" width="3" height="1" fill="#a8a8a8"/>
<rect x="277" y="8.2" width="3" height="1" fill="#a8a8a8"/>
<rect x="277" y="10.2" width="3" height="1" fill="#a8a8a8"/>
<rect x="277" y="12.2" width="3" height="1" fill="#a8a8a8"/>
<rect x="277" y="14.2" width="3" height="1" fill="#a8a8a8"/>
<rect x="277" y="16.2" width="3" height="1" fill="#a8a8a8"/>
<rect x="277" y="18.2" width="3" height="1" fill="#a8a8a8"/>
<rect x="277" y="20.2" width="3" height="1" fill="#a8a8a8"/>
<g stroke="#505050" stroke-width="1.1" fill="none"><path d="M291.3 7 V20 M289.0 17.4 H301.8"/></g>
<polygon points="291.3,5.9 289.40000000000003,8.6 293.2,8.6" fill="#505050"/><polygon points="303.1,17.4 300.3,15.5 300.3,19.3" fill="#505050"/>
<path d="M297.7 7.4 V15.4 M297.7 8.4 H300.2 M297.7 14.4 H295" stroke="#18a018" stroke-width="1.5" fill="none"/>
<rect x="311.4" y="0" width="24.400000000000034" height="22" fill="url(#chk)"/>
<rect x="311.4" y="0" width="1" height="22" fill="#8a8a8a"/><rect x="311.4" y="0" width="24.400000000000034" height="1" fill="#9a9a9a"/>
<g stroke="#505050" stroke-width="1.1" fill="none"><path d="M319.4 7 V20 M317.09999999999997 17.4 H329.9"/></g>
<polygon points="319.4,5.9 317.5,8.6 321.29999999999995,8.6" fill="#505050"/><polygon points="331.2,17.4 328.4,15.5 328.4,19.3" fill="#505050"/>
<rect x="325" y="4.2" width="1.2" height="11.6" fill="#109810"/><rect x="323.3" y="6.2" width="4.5" height="7.4" fill="url(#gGreen)" stroke="#109810" stroke-width="0.9"/>
<g stroke="#505050" stroke-width="1.1" fill="none"><path d="M347.4 7 V20 M345.09999999999997 17.4 H357.9"/></g>
<polygon points="347.4,5.9 345.5,8.6 349.29999999999995,8.6" fill="#505050"/><polygon points="359.2,17.4 356.4,15.5 356.4,19.3" fill="#505050"/>
<path d="M346.3 14.8 Q350.5 8.8 352.6 9.5 Q354.5 10 357.8 13.2" stroke="#28a028" stroke-width="1.4" fill="none"/>
<rect x="367.9" y="1.5" width="1.2" height="20" fill="#a0a0a0"/>
<line x1="386.8" y1="14.6" x2="392.4" y2="19.2" stroke="#d0a818" stroke-width="2.8" stroke-linecap="round"/>
<circle cx="383" cy="9.9" r="5.5" fill="#d8f0ff" stroke="#2c7cd0" stroke-width="1.4"/>
<rect x="380" y="9.1" width="6" height="1.7" fill="#3a86b8"/>
<rect x="382.15" y="6.9" width="1.7" height="6" fill="#3a86b8"/>
<line x1="414.90000000000003" y1="14.6" x2="420.5" y2="19.2" stroke="#d0a818" stroke-width="2.8" stroke-linecap="round"/>
<circle cx="411.1" cy="9.9" r="5.5" fill="#d8f0ff" stroke="#2c7cd0" stroke-width="1.4"/>
<rect x="408.1" y="9.1" width="6" height="1.7" fill="#3a86b8"/>
<rect x="432.9" y="4.3" width="8" height="7.7" rx="0.8" fill="#38a828"/>
<rect x="434.0" y="7.3" width="5.8" height="3.9" fill="#fff"/>
<rect x="435.09999999999997" y="8.3" width="3.6" height="0.9" fill="#38a828" fill-opacity="0.6"/>
<rect x="434.0" y="5.4" width="1" height="1" fill="#fff" fill-opacity="0.8"/>
<rect x="441.1" y="4.3" width="8" height="7.7" rx="0.8" fill="#2858d8"/>
<rect x="442.20000000000005" y="7.3" width="5.8" height="3.9" fill="#fff"/>
<rect x="443.3" y="8.3" width="3.6" height="0.9" fill="#2858d8" fill-opacity="0.6"/>
<rect x="442.20000000000005" y="5.4" width="1" height="1" fill="#fff" fill-opacity="0.8"/>
<rect x="432.9" y="12.2" width="8" height="7.7" rx="0.8" fill="#2858d8"/>
<rect x="434.0" y="15.2" width="5.8" height="3.9" fill="#fff"/>
<rect x="435.09999999999997" y="16.2" width="3.6" height="0.9" fill="#2858d8" fill-opacity="0.6"/>
<rect x="434.0" y="13.299999999999999" width="1" height="1" fill="#fff" fill-opacity="0.8"/>
<rect x="441.1" y="12.2" width="8" height="7.7" rx="0.8" fill="#38a828"/>
<rect x="442.20000000000005" y="15.2" width="5.8" height="3.9" fill="#fff"/>
<rect x="443.3" y="16.2" width="3.6" height="0.9" fill="#38a828" fill-opacity="0.6"/>
<rect x="442.20000000000005" y="13.299999999999999" width="1" height="1" fill="#fff" fill-opacity="0.8"/>
<rect x="457.9" y="1.5" width="1.2" height="20" fill="#a0a0a0"/>
<rect x="463.1" y="0" width="24.899999999999977" height="22" fill="url(#chk)"/>
<rect x="463.1" y="0" width="1" height="22" fill="#8a8a8a"/><rect x="463.1" y="0" width="24.899999999999977" height="1" fill="#9a9a9a"/>
<g stroke="#505050" stroke-width="1.1" fill="none"><path d="M471.4 7 V20 M469.09999999999997 17.4 H481.9"/></g>
<polygon points="471.4,5.9 469.5,8.6 473.29999999999995,8.6" fill="#505050"/><polygon points="483.2,17.4 480.4,15.5 480.4,19.3" fill="#505050"/>
<polygon points="476.4,8.2 480,11.5 476.4,14.8" fill="#70e870" stroke="#18a018" stroke-width="1"/>
<rect x="491.3" y="0" width="24.499999999999943" height="22" fill="url(#chk)"/>
<rect x="491.3" y="0" width="1" height="22" fill="#8a8a8a"/><rect x="491.3" y="0" width="24.499999999999943" height="1" fill="#9a9a9a"/>
<g stroke="#505050" stroke-width="1.1" fill="none"><path d="M499.5 7 V20 M497.2 17.4 H510.0"/></g>
<polygon points="499.5,5.9 497.6,8.6 501.4,8.6" fill="#505050"/><polygon points="511.3,17.4 508.5,15.5 508.5,19.3" fill="#505050"/>
<rect x="505" y="6" width="1.3" height="9.8" fill="#1870b0"/>
<path d="M506.6 11.5 L509.2 9.2 L509 11 H511.2 V12 H509 L509.2 13.8 Z" fill="#d84000"/>
<rect x="520" y="1.5" width="1.2" height="20" fill="#a0a0a0"/>
<path d="M531.3 4.4 H537.6999999999999 L541.6999999999999 8.4 V16.8 Q541.6999999999999 17.8 540.6999999999999 17.8 H531.3 Q530.3 17.8 530.3 16.8 V5.4 Q530.3 4.4 531.3 4.4 Z" fill="#fdfdfd" stroke="#686868" stroke-width="1.1"/>
<path d="M537.6999999999999 4.4 V8.4 H541.6999999999999" fill="#e0e0e0" stroke="#686868" stroke-width="0.8"/>
<text x="532.6" y="15" font-size="10" font-style="italic" font-family="Liberation Serif" fill="#504020">f</text>
<path d="M538.25 10.6 h3.5 v3.8499999999999996 h3.8499999999999996 v3.5 h-3.8499999999999996 v3.8499999999999996 h-3.5 v-3.8499999999999996 h-3.8499999999999996 v-3.5 h3.8499999999999996 z" fill="url(#gGreen)" stroke="#0a8a0a" stroke-width="0.8"/>
<polygon points="551.8,11.2 557.4,11.2 554.5999999999999,14.2" fill="#000"/>
<circle cx="576" cy="11.8" r="7.9" fill="url(#gClock)"/><circle cx="576" cy="11.8" r="5.4" fill="#f4f6f8"/>
<path d="M575.6 8.2 V12 H578.6" stroke="#101010" stroke-width="1.2" fill="none"/>
<g fill="#909090"><rect x="575.6" y="7" width="0.8" height="0.8"/><rect x="575.6" y="15.8" width="0.8" height="0.8"/><rect x="571.2" y="11.4" width="0.8" height="0.8"/><rect x="580" y="11.4" width="0.8" height="0.8"/></g>
<polygon points="591,11.2 596.6,11.2 593.8,14.2" fill="#000"/>
<rect x="607.3" y="5.3" width="15.6" height="13.4" rx="0.8" fill="#fff" stroke="#3070c8" stroke-width="1.2"/><rect x="607.3" y="5.3" width="15.6" height="2.6" fill="#4888d8"/><rect x="607.8" y="12.6" width="14.6" height="1" fill="#3070c8"/>
<path d="M609.3 11.3 L611.2 11.3 L613 10 L615 9.3 L616.8 10.3 L618.8 10.2 L621 9.2" stroke="#a02010" stroke-width="1.2" fill="none"/>
<path d="M609.8 16.6 L611.6 16 L613.4 16.8 L615.2 16.4 L617.4 14.5 L619 15 L621 16.8" stroke="#18902a" stroke-width="1.2" fill="none"/>
<polygon points="629.9,11.2 635.5,11.2 632.6999999999999,14.2" fill="#000"/>
<rect x="641.2" y="0" width="1" height="24" fill="#8c8c8c"/><rect x="642.2" y="0" width="1" height="24" fill="#fcfcfc"/>
<rect x="645" y="2.2" width="3" height="1" fill="#a8a8a8"/>
<rect x="645" y="4.2" width="3" height="1" fill="#a8a8a8"/>
<rect x="645" y="6.2" width="3" height="1" fill="#a8a8a8"/>
<rect x="645" y="8.2" width="3" height="1" fill="#a8a8a8"/>
<rect x="645" y="10.2" width="3" height="1" fill="#a8a8a8"/>
<rect x="645" y="12.2" width="3" height="1" fill="#a8a8a8"/>
<rect x="645" y="14.2" width="3" height="1" fill="#a8a8a8"/>
<rect x="645" y="16.2" width="3" height="1" fill="#a8a8a8"/>
<rect x="645" y="18.2" width="3" height="1" fill="#a8a8a8"/>
<rect x="645" y="20.2" width="3" height="1" fill="#a8a8a8"/>
<rect x="651.2" y="0" width="24.899999999999977" height="22" fill="url(#chk)"/>
<rect x="651.2" y="0" width="1" height="22" fill="#8a8a8a"/><rect x="651.2" y="0" width="24.899999999999977" height="1" fill="#9a9a9a"/>
<polygon points="659.2,5 659.2,16 661.8,13.8 664.4,19.3 666,18.5 663.6,13.2 667.2,12.6" fill="#484848"/>
<path d="M691.5 5.2 V11.2 M691.5 13.4 V19.8 M684.2 12.3 H690.4 M692.6 12.3 H699" stroke="#484848" stroke-width="1.3" fill="none"/>
<rect x="707.8" y="1.5" width="1.2" height="20" fill="#a0a0a0"/>
<rect x="724.9" y="6" width="1.4" height="12.8" fill="#484848"/>
<rect x="748" y="11.6" width="12.2" height="1.4" fill="#484848"/>
<line x1="775.8" y1="18.8" x2="787.9" y2="6.7" stroke="#484848" stroke-width="1.3"/>
<g stroke="#484848" stroke-width="1" fill="none"><path d="M801.8 13.6 L809.8 6.2 M803.4 18 L815.5 9.8 M806.8 18.6 L816 12.2"/><path d="M805 10 L804 18.4 M808.4 8 L807.2 16 M811.6 6.4 L810.4 14 M814.4 4.6 L813.6 11.6" stroke-width="0.9"/></g>
<text x="812.6" y="20.8" font-size="6.6" font-weight="bold" fill="#303030">E</text>
<line x1="831" y1="5.4" x2="844" y2="5.4" stroke="#484848" stroke-width="1" stroke-dasharray="1 1"/>
<line x1="831" y1="8.3" x2="844" y2="8.3" stroke="#484848" stroke-width="1" stroke-dasharray="1 1"/>
<line x1="831" y1="12.5" x2="844" y2="12.5" stroke="#484848" stroke-width="1" stroke-dasharray="1 1"/>
<line x1="831" y1="16.6" x2="839.8" y2="16.6" stroke="#484848" stroke-width="1" stroke-dasharray="1 1"/>
<text x="840.6" y="20.8" font-size="6.6" font-weight="bold" fill="#303030">F</text>
<text x="861.3" y="17" font-size="12.6" fill="#585858" stroke="#585858" stroke-width="0.3">A</text>
<rect x="888.2" y="6.3" width="11.4" height="12.4" fill="none" stroke="#484848" stroke-width="1" stroke-dasharray="1 1"/>
<path d="M890.2 9.8 H897.6 M893.9 9.8 V17" stroke="#585858" stroke-width="1.5" fill="none"/>
<polygon points="918.3,5.8 914.8,9.8 921.9,9.8" fill="#505050"/><polygon points="922,15.2 929.4,15.2 925.7,19" fill="#505050"/><path d="M916.6 14.2 L919 15.8 L923.8 10.4" stroke="#505050" stroke-width="1.3" fill="none"/>
<polygon points="935.9,11.2 941.5,11.2 938.6999999999999,14.2" fill="#000"/>
<rect x="947" y="0" width="1" height="24" fill="#8c8c8c"/><rect x="948" y="0" width="1" height="24" fill="#fcfcfc"/>
<rect x="951" y="2.2" width="3" height="1" fill="#a8a8a8"/>
<rect x="951" y="4.2" width="3" height="1" fill="#a8a8a8"/>
<rect x="951" y="6.2" width="3" height="1" fill="#a8a8a8"/>
<rect x="951" y="8.2" width="3" height="1" fill="#a8a8a8"/>
<rect x="951" y="10.2" width="3" height="1" fill="#a8a8a8"/>
<rect x="951" y="12.2" width="3" height="1" fill="#a8a8a8"/>
<rect x="951" y="14.2" width="3" height="1" fill="#a8a8a8"/>
<rect x="951" y="16.2" width="3" height="1" fill="#a8a8a8"/>
<rect x="951" y="18.2" width="3" height="1" fill="#a8a8a8"/>
<rect x="951" y="20.2" width="3" height="1" fill="#a8a8a8"/>
<rect x="1125" y="0" width="25" height="22" fill="url(#chk)"/>
<rect x="1125" y="0" width="1" height="22" fill="#8a8a8a"/><rect x="1125" y="0" width="25" height="1" fill="#9a9a9a"/>
<text x="962.2" y="15.8" font-size="9.4" fill="#4a4a4a">M1</text>
<text x="990.6" y="15.8" font-size="9.4" fill="#4a4a4a">M5</text>
<text x="1016.8" y="15.8" font-size="9.4" fill="#4a4a4a">M15</text>
<text x="1044.3" y="15.8" font-size="9.4" fill="#4a4a4a">M30</text>
<text x="1075.3" y="15.8" font-size="9.4" fill="#4a4a4a">H1</text>
<text x="1102.8" y="15.8" font-size="9.4" fill="#4a4a4a">H4</text>
<text x="1131.4" y="15.8" font-size="9.4" fill="#4a4a4a">D1</text>
<text x="1158.6" y="15.8" font-size="9.4" fill="#4a4a4a">W1</text>
<text x="1185.8" y="15.8" font-size="9.4" fill="#4a4a4a">MN</text>
<rect x="1208" y="0" width="1" height="24" fill="#b0b0b0"/>
<line x1="1675.2" y1="13" x2="1671.2" y2="16.8" stroke="#1c4cc4" stroke-width="2.4" stroke-linecap="round"/><circle cx="1678.5" cy="9.4" r="4" fill="#f6f8ff" stroke="#2c5cd4" stroke-width="1.3"/>
<path d="M1701.5 9.4 C1705.5 9.4 1707.6 11.4 1707.6 14 C1707.6 16.8 1705 18.6 1701.2 18.6 L1698.4 20.6 L1698.8 18.2 C1696.6 17.6 1695.4 15.8 1695.4 14 C1695.4 11.4 1697.6 9.4 1701.5 9.4 Z" fill="#e0e0ec" stroke="#b4b4bc" stroke-width="0.9"/>
<circle cx="1709.4" cy="9.2" r="8.1" fill="url(#gBadge)"/>
<text x="1705.2" y="14" font-size="12.5" font-weight="bold" fill="#fff">1</text><text x="65.5" y="15.3" font-size="12.2" fill="#000" style="font-family:'Liberation Sans','Noto Sans CJK SC',sans-serif;">新订单</text><text x="217.5" y="15.3" font-size="12.2" fill="#000" style="font-family:'Liberation Sans','Noto Sans CJK SC',sans-serif;">自动交易</text></g>
</svg>
<div id="trade"><div style="left:0;top:0;width:208px;height:64px;background:#fff"></div>
 <div class="sb" style="left:0;top:0;width:41px;height:24px;"><span style="position:absolute;left:1px;top:4px;font-size:12.5px;transform:scaleX(.86);transform-origin:0 0;">SELL</span></div>
 <div style="left:37px;top:22px;width:6px;height:3px;background:#fff"></div>
 <div class="sb" style="left:156px;top:0;width:52px;height:24px;"><span style="position:absolute;left:13px;top:4px;font-size:12.5px;transform:scaleX(.95);transform-origin:0 0;">BUY</span></div>
 <div style="left:43px;top:0;width:111px;height:21px;background:#fff;border:1px solid #b8b8b8;box-sizing:border-box;"></div>
 <div style="left:45px;top:2px;width:19px;height:17px;background:linear-gradient(#e8e8e8,#c8c8c8);border:1px solid #aaa;box-sizing:border-box;"></div>
 <div style="left:133px;top:2px;width:19px;height:17px;background:linear-gradient(#e8e8e8,#c8c8c8);border:1px solid #aaa;box-sizing:border-box;"></div>
 <div style="left:50px;top:9px;width:0;height:0;border-left:3px solid transparent;border-right:3px solid transparent;border-top:4px solid #4a5cb0;"></div>
 <div style="left:139px;top:8px;width:0;height:0;border-left:3px solid transparent;border-right:3px solid transparent;border-bottom:4px solid #4a5cb0;"></div>
 <div style="left:64px;top:3px;width:66px;height:16px;color:#000;font-size:12.5px;text-align:right;line-height:16px;">1.00</div>
 <div class="pp" style="left:0;top:24px;width:98px;height:40px;"></div>
 <div class="pp" style="left:100px;top:24px;width:108px;height:40px;"></div>
 <div style="left:0;top:23px;width:37px;height:1px;background:#b82020"></div>
 <div style="left:160px;top:23px;width:44px;height:1px;background:#b82020"></div>
 <div style="left:12.5px;top:44px;color:#fff;font-size:12px;font-weight:bold;">146</div>
 <div style="left:37px;top:24px;color:#fff;font-size:33px;line-height:40px;letter-spacing:-1.5px;-webkit-text-stroke:0.7px #cc1c1c;">52</div>
 <div style="left:76px;top:28.5px;color:#fff;font-size:12px;font-weight:bold;">5</div>
 <div style="left:122.5px;top:44px;color:#fff;font-size:12px;font-weight:bold;">146</div>
 <div style="left:147px;top:24px;color:#fff;font-size:33px;line-height:40px;letter-spacing:-1.5px;-webkit-text-stroke:0.7px #cc1c1c;">82</div>
 <div style="left:187px;top:28.5px;color:#fff;font-size:12px;font-weight:bold;">5</div>
</div>
</body></html>
